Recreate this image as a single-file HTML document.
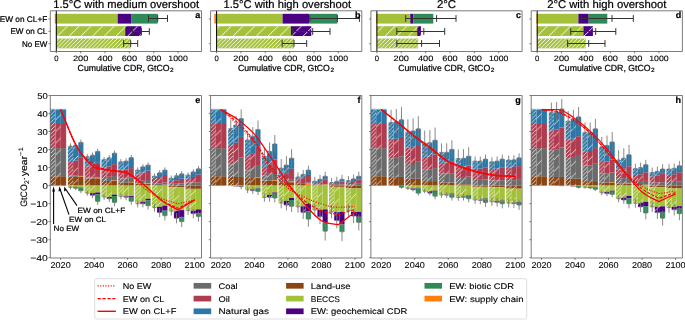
<!DOCTYPE html>
<html><head><meta charset="utf-8"><style>
html,body{margin:0;padding:0;background:#fff;}
body{width:685px;height:320px;overflow:hidden;}
svg{display:block;will-change:transform;}
</style></head><body>
<svg width="685" height="320" viewBox="0 0 685 320" font-family="&quot;Liberation Sans&quot;, sans-serif" fill="#000" text-rendering="geometricPrecision" stroke-linejoin="round">
<defs><pattern id="hd" patternUnits="userSpaceOnUse" width="3.85" height="3.85"><path d="M-1,4.85 L4.85,-1 M-4.85,4.85 L1,-1 M2.85,8.7 L8.7,2.85" stroke="#fff" stroke-opacity="0.85" stroke-width="0.85"/></pattern><pattern id="hs" patternUnits="userSpaceOnUse" width="11.7" height="11.7"><path d="M-1,12.7 L12.7,-1 M-12.7,12.7 L1,-1 M10.7,24.4 L24.4,10.7" stroke="#fff" stroke-opacity="0.85" stroke-width="0.85"/></pattern><pattern id="thd" patternUnits="userSpaceOnUse" width="3.9" height="3.9"><path d="M-1,4.9 L4.9,-1 M-4.9,4.9 L1,-1 M2.9,8.8 L8.8,2.9" stroke="#fff" stroke-opacity="0.95" stroke-width="0.95"/></pattern><pattern id="ths" patternUnits="userSpaceOnUse" width="11.7" height="11.7"><path d="M-1,12.7 L12.7,-1 M-12.7,12.7 L1,-1 M10.7,24.4 L24.4,10.7" stroke="#fff" stroke-opacity="0.95" stroke-width="0.95"/></pattern></defs>
<rect width="685" height="320" fill="#fff"/>
<text x="126.15" y="7.90" font-size="11.3" text-anchor="middle" textLength="145.80" lengthAdjust="spacingAndGlyphs" stroke="#000" stroke-width="0.22">1.5°C with medium overshoot</text>
<rect x="54.80" y="13.80" width="1.50" height="9.80" fill="#ff7f0e"/>
<rect x="56.30" y="13.80" width="61.40" height="9.80" fill="#a4c13a"/>
<rect x="117.70" y="13.80" width="13.40" height="9.80" fill="#4b0082"/>
<rect x="131.10" y="13.80" width="26.60" height="9.80" fill="#2e8b57"/>
<path d="M148.50,18.50H167.50M148.50,15.10V21.90M167.50,15.10V21.90M157.70,15.10V21.90" stroke="#333" stroke-width="1.0" fill="none"/>
<rect x="55.90" y="26.20" width="0.40" height="9.80" fill="#ff7f0e"/>
<rect x="56.30" y="26.20" width="68.90" height="9.80" fill="#a4c13a"/>
<rect x="125.20" y="26.20" width="16.20" height="9.80" fill="#4b0082"/>
<rect x="56.30" y="26.20" width="85.10" height="9.80" fill="url(#ths)"/>
<path d="M132.40,31.50H149.30M132.40,28.10V34.90M149.30,28.10V34.90M141.40,28.10V34.90" stroke="#333" stroke-width="1.0" fill="none"/>
<rect x="56.30" y="38.55" width="74.40" height="9.80" fill="#a4c13a"/>
<rect x="56.30" y="38.55" width="74.40" height="9.80" fill="url(#thd)"/>
<path d="M123.60,43.50H137.70M123.60,40.10V46.90M137.70,40.10V46.90M130.70,40.10V46.90" stroke="#333" stroke-width="1.0" fill="none"/>
<line x1="56.30" y1="10.80" x2="56.30" y2="51.50" stroke="#000" stroke-width="1"/>
<rect x="50.30" y="10.80" width="151.20" height="40.70" fill="none" stroke="#5a5a5a" stroke-width="0.8"/>
<line x1="56.30" y1="51.50" x2="56.30" y2="53.30" stroke="#5a5a5a" stroke-width="0.8"/>
<text x="56.30" y="60.60" font-size="7.7" text-anchor="middle" textLength="4.30" lengthAdjust="spacingAndGlyphs" stroke="#000" stroke-width="0.1">0</text>
<line x1="80.65" y1="51.50" x2="80.65" y2="53.30" stroke="#5a5a5a" stroke-width="0.8"/>
<text x="80.65" y="60.60" font-size="7.7" text-anchor="middle" textLength="15.40" lengthAdjust="spacingAndGlyphs" stroke="#000" stroke-width="0.1">200</text>
<line x1="105.00" y1="51.50" x2="105.00" y2="53.30" stroke="#5a5a5a" stroke-width="0.8"/>
<text x="105.00" y="60.60" font-size="7.7" text-anchor="middle" textLength="15.40" lengthAdjust="spacingAndGlyphs" stroke="#000" stroke-width="0.1">400</text>
<line x1="129.35" y1="51.50" x2="129.35" y2="53.30" stroke="#5a5a5a" stroke-width="0.8"/>
<text x="129.35" y="60.60" font-size="7.7" text-anchor="middle" textLength="15.40" lengthAdjust="spacingAndGlyphs" stroke="#000" stroke-width="0.1">600</text>
<line x1="153.70" y1="51.50" x2="153.70" y2="53.30" stroke="#5a5a5a" stroke-width="0.8"/>
<text x="153.70" y="60.60" font-size="7.7" text-anchor="middle" textLength="15.40" lengthAdjust="spacingAndGlyphs" stroke="#000" stroke-width="0.1">800</text>
<line x1="178.05" y1="51.50" x2="178.05" y2="53.30" stroke="#5a5a5a" stroke-width="0.8"/>
<text x="178.05" y="60.60" font-size="7.7" text-anchor="middle" textLength="19.50" lengthAdjust="spacingAndGlyphs" stroke="#000" stroke-width="0.1">1000</text>
<line x1="48.50" y1="18.95" x2="50.30" y2="18.95" stroke="#5a5a5a" stroke-width="0.8"/>
<line x1="48.50" y1="31.35" x2="50.30" y2="31.35" stroke="#5a5a5a" stroke-width="0.8"/>
<line x1="48.50" y1="43.70" x2="50.30" y2="43.70" stroke="#5a5a5a" stroke-width="0.8"/>
<text x="77.60" y="70.90" font-size="8.9" textLength="92.00" lengthAdjust="spacingAndGlyphs" stroke="#000" stroke-width="0.22">Cumulative CDR, GtCO</text>
<text x="170.10" y="72.40" font-size="6.2" textLength="3.60" lengthAdjust="spacingAndGlyphs" stroke="#000" stroke-width="0.22">2</text>
<text x="200.30" y="17.80" font-size="9.0" text-anchor="end" font-weight="bold" stroke="#000" stroke-width="0.22">a</text>
<text x="287.25" y="7.90" font-size="11.3" text-anchor="middle" textLength="127.50" lengthAdjust="spacingAndGlyphs" stroke="#000" stroke-width="0.22">1.5°C with high overshoot</text>
<rect x="214.30" y="13.80" width="2.30" height="9.80" fill="#ff7f0e"/>
<rect x="216.60" y="13.80" width="66.00" height="9.80" fill="#a4c13a"/>
<rect x="282.60" y="13.80" width="26.90" height="9.80" fill="#4b0082"/>
<rect x="309.50" y="13.80" width="27.90" height="9.80" fill="#2e8b57"/>
<path d="M309.70,18.50H359.40M309.70,15.10V21.90M359.40,15.10V21.90M337.40,15.10V21.90" stroke="#333" stroke-width="1.0" fill="none"/>
<rect x="216.00" y="26.20" width="0.60" height="9.80" fill="#ff7f0e"/>
<rect x="216.60" y="26.20" width="74.30" height="9.80" fill="#a4c13a"/>
<rect x="290.90" y="26.20" width="20.40" height="9.80" fill="#4b0082"/>
<rect x="216.60" y="26.20" width="94.70" height="9.80" fill="url(#ths)"/>
<path d="M292.60,31.50H330.00M292.60,28.10V34.90M330.00,28.10V34.90M312.70,28.10V34.90" stroke="#333" stroke-width="1.0" fill="none"/>
<rect x="216.60" y="38.55" width="77.40" height="9.80" fill="#a4c13a"/>
<rect x="216.60" y="38.55" width="77.40" height="9.80" fill="url(#thd)"/>
<path d="M282.20,43.50H306.70M282.20,40.10V46.90M306.70,40.10V46.90M294.00,40.10V46.90" stroke="#333" stroke-width="1.0" fill="none"/>
<line x1="216.60" y1="10.80" x2="216.60" y2="51.50" stroke="#000" stroke-width="1"/>
<rect x="210.60" y="10.80" width="151.20" height="40.70" fill="none" stroke="#5a5a5a" stroke-width="0.8"/>
<line x1="216.60" y1="51.50" x2="216.60" y2="53.30" stroke="#5a5a5a" stroke-width="0.8"/>
<text x="216.60" y="60.60" font-size="7.7" text-anchor="middle" textLength="4.30" lengthAdjust="spacingAndGlyphs" stroke="#000" stroke-width="0.1">0</text>
<line x1="240.95" y1="51.50" x2="240.95" y2="53.30" stroke="#5a5a5a" stroke-width="0.8"/>
<text x="240.95" y="60.60" font-size="7.7" text-anchor="middle" textLength="15.40" lengthAdjust="spacingAndGlyphs" stroke="#000" stroke-width="0.1">200</text>
<line x1="265.30" y1="51.50" x2="265.30" y2="53.30" stroke="#5a5a5a" stroke-width="0.8"/>
<text x="265.30" y="60.60" font-size="7.7" text-anchor="middle" textLength="15.40" lengthAdjust="spacingAndGlyphs" stroke="#000" stroke-width="0.1">400</text>
<line x1="289.65" y1="51.50" x2="289.65" y2="53.30" stroke="#5a5a5a" stroke-width="0.8"/>
<text x="289.65" y="60.60" font-size="7.7" text-anchor="middle" textLength="15.40" lengthAdjust="spacingAndGlyphs" stroke="#000" stroke-width="0.1">600</text>
<line x1="314.00" y1="51.50" x2="314.00" y2="53.30" stroke="#5a5a5a" stroke-width="0.8"/>
<text x="314.00" y="60.60" font-size="7.7" text-anchor="middle" textLength="15.40" lengthAdjust="spacingAndGlyphs" stroke="#000" stroke-width="0.1">800</text>
<line x1="338.35" y1="51.50" x2="338.35" y2="53.30" stroke="#5a5a5a" stroke-width="0.8"/>
<text x="338.35" y="60.60" font-size="7.7" text-anchor="middle" textLength="19.50" lengthAdjust="spacingAndGlyphs" stroke="#000" stroke-width="0.1">1000</text>
<line x1="208.80" y1="18.95" x2="210.60" y2="18.95" stroke="#5a5a5a" stroke-width="0.8"/>
<line x1="208.80" y1="43.70" x2="210.60" y2="43.70" stroke="#5a5a5a" stroke-width="0.8"/>
<text x="237.90" y="70.90" font-size="8.9" textLength="92.00" lengthAdjust="spacingAndGlyphs" stroke="#000" stroke-width="0.22">Cumulative CDR, GtCO</text>
<text x="330.40" y="72.40" font-size="6.2" textLength="3.60" lengthAdjust="spacingAndGlyphs" stroke="#000" stroke-width="0.22">2</text>
<text x="360.60" y="17.80" font-size="9.0" text-anchor="end" font-weight="bold" stroke="#000" stroke-width="0.22">b</text>
<text x="446.50" y="7.90" font-size="11.3" text-anchor="middle" textLength="19.20" lengthAdjust="spacingAndGlyphs" stroke="#000" stroke-width="0.22">2°C</text>
<rect x="376.10" y="13.80" width="0.80" height="9.80" fill="#ff7f0e"/>
<rect x="376.90" y="13.80" width="33.40" height="9.80" fill="#a4c13a"/>
<rect x="410.30" y="13.80" width="3.00" height="9.80" fill="#4b0082"/>
<rect x="413.30" y="13.80" width="20.00" height="9.80" fill="#2e8b57"/>
<path d="M405.70,18.50H456.00M405.70,15.10V21.90M456.00,15.10V21.90M436.60,15.10V21.90" stroke="#333" stroke-width="1.0" fill="none"/>
<rect x="376.50" y="26.20" width="0.40" height="9.80" fill="#ff7f0e"/>
<rect x="376.90" y="26.20" width="40.30" height="9.80" fill="#a4c13a"/>
<rect x="417.20" y="26.20" width="3.70" height="9.80" fill="#4b0082"/>
<rect x="376.90" y="26.20" width="44.00" height="9.80" fill="url(#ths)"/>
<path d="M396.80,31.50H444.70M396.80,28.10V34.90M444.70,28.10V34.90M423.80,28.10V34.90" stroke="#333" stroke-width="1.0" fill="none"/>
<rect x="376.90" y="38.55" width="41.20" height="9.80" fill="#a4c13a"/>
<rect x="376.90" y="38.55" width="41.20" height="9.80" fill="url(#thd)"/>
<path d="M396.80,43.50H439.50M396.80,40.10V46.90M439.50,40.10V46.90M421.60,40.10V46.90" stroke="#333" stroke-width="1.0" fill="none"/>
<line x1="376.90" y1="10.80" x2="376.90" y2="51.50" stroke="#000" stroke-width="1"/>
<rect x="370.90" y="10.80" width="151.20" height="40.70" fill="none" stroke="#5a5a5a" stroke-width="0.8"/>
<line x1="376.90" y1="51.50" x2="376.90" y2="53.30" stroke="#5a5a5a" stroke-width="0.8"/>
<text x="376.90" y="60.60" font-size="7.7" text-anchor="middle" textLength="4.30" lengthAdjust="spacingAndGlyphs" stroke="#000" stroke-width="0.1">0</text>
<line x1="401.25" y1="51.50" x2="401.25" y2="53.30" stroke="#5a5a5a" stroke-width="0.8"/>
<text x="401.25" y="60.60" font-size="7.7" text-anchor="middle" textLength="15.40" lengthAdjust="spacingAndGlyphs" stroke="#000" stroke-width="0.1">200</text>
<line x1="425.60" y1="51.50" x2="425.60" y2="53.30" stroke="#5a5a5a" stroke-width="0.8"/>
<text x="425.60" y="60.60" font-size="7.7" text-anchor="middle" textLength="15.40" lengthAdjust="spacingAndGlyphs" stroke="#000" stroke-width="0.1">400</text>
<line x1="449.95" y1="51.50" x2="449.95" y2="53.30" stroke="#5a5a5a" stroke-width="0.8"/>
<text x="449.95" y="60.60" font-size="7.7" text-anchor="middle" textLength="15.40" lengthAdjust="spacingAndGlyphs" stroke="#000" stroke-width="0.1">600</text>
<line x1="474.30" y1="51.50" x2="474.30" y2="53.30" stroke="#5a5a5a" stroke-width="0.8"/>
<text x="474.30" y="60.60" font-size="7.7" text-anchor="middle" textLength="15.40" lengthAdjust="spacingAndGlyphs" stroke="#000" stroke-width="0.1">800</text>
<line x1="498.65" y1="51.50" x2="498.65" y2="53.30" stroke="#5a5a5a" stroke-width="0.8"/>
<text x="498.65" y="60.60" font-size="7.7" text-anchor="middle" textLength="19.50" lengthAdjust="spacingAndGlyphs" stroke="#000" stroke-width="0.1">1000</text>
<line x1="369.10" y1="18.95" x2="370.90" y2="18.95" stroke="#5a5a5a" stroke-width="0.8"/>
<line x1="369.10" y1="43.70" x2="370.90" y2="43.70" stroke="#5a5a5a" stroke-width="0.8"/>
<text x="398.20" y="70.90" font-size="8.9" textLength="92.00" lengthAdjust="spacingAndGlyphs" stroke="#000" stroke-width="0.22">Cumulative CDR, GtCO</text>
<text x="490.70" y="72.40" font-size="6.2" textLength="3.60" lengthAdjust="spacingAndGlyphs" stroke="#000" stroke-width="0.22">2</text>
<text x="520.90" y="17.80" font-size="9.0" text-anchor="end" font-weight="bold" stroke="#000" stroke-width="0.22">c</text>
<text x="606.80" y="7.90" font-size="11.3" text-anchor="middle" textLength="119.30" lengthAdjust="spacingAndGlyphs" stroke="#000" stroke-width="0.22">2°C with high overshoot</text>
<rect x="536.40" y="13.80" width="0.80" height="9.80" fill="#ff7f0e"/>
<rect x="537.20" y="13.80" width="41.20" height="9.80" fill="#a4c13a"/>
<rect x="578.40" y="13.80" width="10.30" height="9.80" fill="#4b0082"/>
<rect x="588.70" y="13.80" width="18.60" height="9.80" fill="#2e8b57"/>
<path d="M581.20,18.50H633.30M581.20,15.10V21.90M633.30,15.10V21.90M612.00,15.10V21.90" stroke="#333" stroke-width="1.0" fill="none"/>
<rect x="536.80" y="26.20" width="0.40" height="9.80" fill="#ff7f0e"/>
<rect x="537.20" y="26.20" width="46.30" height="9.80" fill="#a4c13a"/>
<rect x="583.50" y="26.20" width="9.40" height="9.80" fill="#4b0082"/>
<rect x="537.20" y="26.20" width="55.70" height="9.80" fill="url(#ths)"/>
<path d="M570.70,31.50H615.80M570.70,28.10V34.90M615.80,28.10V34.90M595.70,28.10V34.90" stroke="#333" stroke-width="1.0" fill="none"/>
<rect x="537.20" y="38.55" width="48.60" height="9.80" fill="#a4c13a"/>
<rect x="537.20" y="38.55" width="48.60" height="9.80" fill="url(#thd)"/>
<path d="M567.60,43.50H605.00M567.60,40.10V46.90M605.00,40.10V46.90M588.70,40.10V46.90" stroke="#333" stroke-width="1.0" fill="none"/>
<line x1="537.20" y1="10.80" x2="537.20" y2="51.50" stroke="#000" stroke-width="1"/>
<rect x="531.20" y="10.80" width="151.20" height="40.70" fill="none" stroke="#5a5a5a" stroke-width="0.8"/>
<line x1="537.20" y1="51.50" x2="537.20" y2="53.30" stroke="#5a5a5a" stroke-width="0.8"/>
<text x="537.20" y="60.60" font-size="7.7" text-anchor="middle" textLength="4.30" lengthAdjust="spacingAndGlyphs" stroke="#000" stroke-width="0.1">0</text>
<line x1="561.55" y1="51.50" x2="561.55" y2="53.30" stroke="#5a5a5a" stroke-width="0.8"/>
<text x="561.55" y="60.60" font-size="7.7" text-anchor="middle" textLength="15.40" lengthAdjust="spacingAndGlyphs" stroke="#000" stroke-width="0.1">200</text>
<line x1="585.90" y1="51.50" x2="585.90" y2="53.30" stroke="#5a5a5a" stroke-width="0.8"/>
<text x="585.90" y="60.60" font-size="7.7" text-anchor="middle" textLength="15.40" lengthAdjust="spacingAndGlyphs" stroke="#000" stroke-width="0.1">400</text>
<line x1="610.25" y1="51.50" x2="610.25" y2="53.30" stroke="#5a5a5a" stroke-width="0.8"/>
<text x="610.25" y="60.60" font-size="7.7" text-anchor="middle" textLength="15.40" lengthAdjust="spacingAndGlyphs" stroke="#000" stroke-width="0.1">600</text>
<line x1="634.60" y1="51.50" x2="634.60" y2="53.30" stroke="#5a5a5a" stroke-width="0.8"/>
<text x="634.60" y="60.60" font-size="7.7" text-anchor="middle" textLength="15.40" lengthAdjust="spacingAndGlyphs" stroke="#000" stroke-width="0.1">800</text>
<line x1="658.95" y1="51.50" x2="658.95" y2="53.30" stroke="#5a5a5a" stroke-width="0.8"/>
<text x="658.95" y="60.60" font-size="7.7" text-anchor="middle" textLength="19.50" lengthAdjust="spacingAndGlyphs" stroke="#000" stroke-width="0.1">1000</text>
<line x1="529.40" y1="18.95" x2="531.20" y2="18.95" stroke="#5a5a5a" stroke-width="0.8"/>
<line x1="529.40" y1="43.70" x2="531.20" y2="43.70" stroke="#5a5a5a" stroke-width="0.8"/>
<text x="558.50" y="70.90" font-size="8.9" textLength="92.00" lengthAdjust="spacingAndGlyphs" stroke="#000" stroke-width="0.22">Cumulative CDR, GtCO</text>
<text x="651.00" y="72.40" font-size="6.2" textLength="3.60" lengthAdjust="spacingAndGlyphs" stroke="#000" stroke-width="0.22">2</text>
<text x="681.20" y="17.80" font-size="9.0" text-anchor="end" font-weight="bold" stroke="#000" stroke-width="0.22">d</text>
<text x="47.30" y="21.80" font-size="8.2" text-anchor="end" textLength="47.60" lengthAdjust="spacingAndGlyphs" stroke="#000" stroke-width="0.22">EW on CL+F</text>
<text x="47.30" y="34.20" font-size="8.2" text-anchor="end" textLength="36.90" lengthAdjust="spacingAndGlyphs" stroke="#000" stroke-width="0.22">EW on CL</text>
<text x="47.30" y="46.55" font-size="8.2" text-anchor="end" textLength="25.30" lengthAdjust="spacingAndGlyphs" stroke="#000" stroke-width="0.22">No EW</text>
<rect x="50.30" y="176.22" width="5.30" height="9.38" fill="#8b4513"/>
<rect x="50.30" y="148.10" width="5.30" height="28.13" fill="#6b6b6b"/>
<rect x="50.30" y="123.04" width="5.30" height="25.06" fill="#b03c4f"/>
<rect x="50.30" y="109.51" width="5.30" height="13.52" fill="#2a77a8"/>
<rect x="50.30" y="109.51" width="5.30" height="76.09" fill="url(#hd)"/>
<line x1="55.60" y1="109.51" x2="55.60" y2="185.60" stroke="#fff" stroke-opacity="0.35" stroke-width="0.5"/>
<path d="M50.75,109.31H55.15" stroke="#9a9a9a" stroke-width="0.8" fill="none"/>
<rect x="55.60" y="176.22" width="5.30" height="9.38" fill="#8b4513"/>
<rect x="55.60" y="148.10" width="5.30" height="28.13" fill="#6b6b6b"/>
<rect x="55.60" y="123.04" width="5.30" height="25.06" fill="#b03c4f"/>
<rect x="55.60" y="109.51" width="5.30" height="13.52" fill="#2a77a8"/>
<rect x="55.60" y="109.51" width="5.30" height="76.09" fill="url(#hs)"/>
<line x1="60.90" y1="109.51" x2="60.90" y2="185.60" stroke="#fff" stroke-opacity="0.35" stroke-width="0.5"/>
<path d="M56.05,109.31H60.45" stroke="#9a9a9a" stroke-width="0.8" fill="none"/>
<rect x="60.90" y="176.22" width="5.30" height="9.38" fill="#8b4513"/>
<rect x="60.90" y="148.10" width="5.30" height="28.13" fill="#6b6b6b"/>
<rect x="60.90" y="123.04" width="5.30" height="25.06" fill="#b03c4f"/>
<rect x="60.90" y="109.51" width="5.30" height="13.52" fill="#2a77a8"/>
<line x1="66.20" y1="109.51" x2="66.20" y2="185.60" stroke="#fff" stroke-opacity="0.35" stroke-width="0.5"/>
<path d="M61.35,109.31H65.75" stroke="#9a9a9a" stroke-width="0.8" fill="none"/>
<rect x="67.90" y="176.77" width="5.20" height="8.83" fill="#8b4513"/>
<rect x="67.90" y="175.32" width="5.20" height="1.44" fill="#6b6b6b"/>
<rect x="67.90" y="161.08" width="5.20" height="14.24" fill="#b03c4f"/>
<rect x="67.90" y="146.11" width="5.20" height="14.96" fill="#2a77a8"/>
<rect x="67.90" y="185.60" width="5.20" height="1.80" fill="#a4c13a"/>
<rect x="67.90" y="146.11" width="5.20" height="41.29" fill="url(#hd)"/>
<line x1="73.10" y1="146.11" x2="73.10" y2="187.40" stroke="#fff" stroke-opacity="0.35" stroke-width="0.5"/>
<path d="M70.50,143.41V148.82M68.80,146.11H72.20" stroke="#7a7a7a" stroke-width="0.9" fill="none"/>
<path d="M70.50,185.96V189.39M68.80,187.40H72.20" stroke="#7a7a7a" stroke-width="0.9" fill="none"/>
<rect x="73.10" y="176.77" width="5.20" height="8.83" fill="#8b4513"/>
<rect x="73.10" y="175.32" width="5.20" height="1.44" fill="#6b6b6b"/>
<rect x="73.10" y="160.72" width="5.20" height="14.60" fill="#b03c4f"/>
<rect x="73.10" y="145.39" width="5.20" height="15.33" fill="#2a77a8"/>
<rect x="73.10" y="185.60" width="5.20" height="1.80" fill="#a4c13a"/>
<rect x="73.10" y="187.40" width="5.20" height="0.81" fill="#4b0082"/>
<rect x="73.10" y="145.39" width="5.20" height="42.82" fill="url(#hs)"/>
<line x1="78.30" y1="145.39" x2="78.30" y2="188.21" stroke="#fff" stroke-opacity="0.35" stroke-width="0.5"/>
<path d="M75.70,142.69V148.10M74.00,145.39H77.40" stroke="#7a7a7a" stroke-width="0.9" fill="none"/>
<path d="M75.70,186.15V190.28M74.00,188.21H77.40" stroke="#7a7a7a" stroke-width="0.9" fill="none"/>
<rect x="78.30" y="176.95" width="5.20" height="8.65" fill="#8b4513"/>
<rect x="78.30" y="176.22" width="5.20" height="0.72" fill="#ff7f0e"/>
<rect x="78.30" y="174.96" width="5.20" height="1.26" fill="#6b6b6b"/>
<rect x="78.30" y="157.29" width="5.20" height="17.67" fill="#b03c4f"/>
<rect x="78.30" y="142.33" width="5.20" height="14.96" fill="#2a77a8"/>
<rect x="78.30" y="185.60" width="5.20" height="1.62" fill="#a4c13a"/>
<rect x="78.30" y="187.22" width="5.20" height="0.18" fill="#4b0082"/>
<rect x="78.30" y="187.40" width="5.20" height="3.43" fill="#2e8b57"/>
<line x1="83.50" y1="142.33" x2="83.50" y2="190.83" stroke="#fff" stroke-opacity="0.35" stroke-width="0.5"/>
<path d="M80.90,139.62V145.03M79.20,142.33H82.60" stroke="#7a7a7a" stroke-width="0.9" fill="none"/>
<path d="M80.90,188.50V193.15M79.20,190.83H82.60" stroke="#7a7a7a" stroke-width="0.9" fill="none"/>
<rect x="84.70" y="178.39" width="5.20" height="7.21" fill="#8b4513"/>
<rect x="84.70" y="177.31" width="5.20" height="1.08" fill="#6b6b6b"/>
<rect x="84.70" y="166.31" width="5.20" height="11.00" fill="#b03c4f"/>
<rect x="84.70" y="156.75" width="5.20" height="9.56" fill="#2a77a8"/>
<rect x="84.70" y="185.60" width="5.20" height="7.57" fill="#a4c13a"/>
<rect x="84.70" y="156.75" width="5.20" height="36.42" fill="url(#hd)"/>
<line x1="89.90" y1="156.75" x2="89.90" y2="193.17" stroke="#fff" stroke-opacity="0.35" stroke-width="0.5"/>
<path d="M87.30,154.05V159.46M85.60,156.75H89.00" stroke="#7a7a7a" stroke-width="0.9" fill="none"/>
<path d="M87.30,190.61V195.73M85.60,193.17H89.00" stroke="#7a7a7a" stroke-width="0.9" fill="none"/>
<rect x="89.90" y="178.39" width="5.20" height="7.21" fill="#8b4513"/>
<rect x="89.90" y="177.31" width="5.20" height="1.08" fill="#6b6b6b"/>
<rect x="89.90" y="164.87" width="5.20" height="12.44" fill="#b03c4f"/>
<rect x="89.90" y="155.13" width="5.20" height="9.74" fill="#2a77a8"/>
<rect x="89.90" y="185.60" width="5.20" height="7.57" fill="#a4c13a"/>
<rect x="89.90" y="193.17" width="5.20" height="2.16" fill="#4b0082"/>
<rect x="89.90" y="155.13" width="5.20" height="40.21" fill="url(#hs)"/>
<line x1="95.10" y1="155.13" x2="95.10" y2="195.34" stroke="#fff" stroke-opacity="0.35" stroke-width="0.5"/>
<path d="M92.50,152.42V157.83M90.80,155.13H94.20" stroke="#7a7a7a" stroke-width="0.9" fill="none"/>
<path d="M92.50,192.56V198.11M90.80,195.34H94.20" stroke="#7a7a7a" stroke-width="0.9" fill="none"/>
<rect x="95.10" y="178.39" width="5.20" height="7.21" fill="#8b4513"/>
<rect x="95.10" y="177.67" width="5.20" height="0.72" fill="#ff7f0e"/>
<rect x="95.10" y="176.95" width="5.20" height="0.72" fill="#6b6b6b"/>
<rect x="95.10" y="162.88" width="5.20" height="14.06" fill="#b03c4f"/>
<rect x="95.10" y="151.34" width="5.20" height="11.54" fill="#2a77a8"/>
<rect x="95.10" y="185.60" width="5.20" height="6.85" fill="#a4c13a"/>
<rect x="95.10" y="192.45" width="5.20" height="1.80" fill="#4b0082"/>
<rect x="95.10" y="194.25" width="5.20" height="7.21" fill="#2e8b57"/>
<line x1="100.30" y1="151.34" x2="100.30" y2="201.47" stroke="#fff" stroke-opacity="0.35" stroke-width="0.5"/>
<path d="M97.70,148.64V154.05M96.00,151.34H99.40" stroke="#7a7a7a" stroke-width="0.9" fill="none"/>
<path d="M97.70,198.08V204.86M96.00,201.47H99.40" stroke="#7a7a7a" stroke-width="0.9" fill="none"/>
<rect x="101.50" y="180.91" width="5.20" height="4.69" fill="#8b4513"/>
<rect x="101.50" y="176.95" width="5.20" height="3.97" fill="#6b6b6b"/>
<rect x="101.50" y="167.75" width="5.20" height="9.20" fill="#b03c4f"/>
<rect x="101.50" y="159.64" width="5.20" height="8.11" fill="#2a77a8"/>
<rect x="101.50" y="185.60" width="5.20" height="11.36" fill="#a4c13a"/>
<rect x="101.50" y="159.64" width="5.20" height="37.32" fill="url(#hd)"/>
<line x1="106.70" y1="159.64" x2="106.70" y2="196.96" stroke="#fff" stroke-opacity="0.35" stroke-width="0.5"/>
<path d="M104.10,156.93V162.34M102.40,159.64H105.80" stroke="#7a7a7a" stroke-width="0.9" fill="none"/>
<path d="M104.10,194.02V199.90M102.40,196.96H105.80" stroke="#7a7a7a" stroke-width="0.9" fill="none"/>
<rect x="106.70" y="180.91" width="5.20" height="4.69" fill="#8b4513"/>
<rect x="106.70" y="176.77" width="5.20" height="4.15" fill="#6b6b6b"/>
<rect x="106.70" y="166.31" width="5.20" height="10.46" fill="#b03c4f"/>
<rect x="106.70" y="157.83" width="5.20" height="8.47" fill="#2a77a8"/>
<rect x="106.70" y="185.60" width="5.20" height="11.36" fill="#a4c13a"/>
<rect x="106.70" y="196.96" width="5.20" height="1.80" fill="#4b0082"/>
<rect x="106.70" y="157.83" width="5.20" height="40.93" fill="url(#hs)"/>
<line x1="111.90" y1="157.83" x2="111.90" y2="198.76" stroke="#fff" stroke-opacity="0.35" stroke-width="0.5"/>
<path d="M109.30,155.13V160.54M107.60,157.83H111.00" stroke="#7a7a7a" stroke-width="0.9" fill="none"/>
<path d="M109.30,195.64V201.88M107.60,198.76H111.00" stroke="#7a7a7a" stroke-width="0.9" fill="none"/>
<rect x="111.90" y="180.55" width="5.20" height="5.05" fill="#8b4513"/>
<rect x="111.90" y="180.19" width="5.20" height="0.36" fill="#ff7f0e"/>
<rect x="111.90" y="176.04" width="5.20" height="4.15" fill="#6b6b6b"/>
<rect x="111.90" y="164.14" width="5.20" height="11.90" fill="#b03c4f"/>
<rect x="111.90" y="153.15" width="5.20" height="11.00" fill="#2a77a8"/>
<rect x="111.90" y="185.60" width="5.20" height="9.02" fill="#a4c13a"/>
<rect x="111.90" y="194.62" width="5.20" height="1.44" fill="#4b0082"/>
<rect x="111.90" y="196.06" width="5.20" height="6.49" fill="#2e8b57"/>
<line x1="117.10" y1="153.15" x2="117.10" y2="202.55" stroke="#fff" stroke-opacity="0.35" stroke-width="0.5"/>
<path d="M114.50,150.44V155.85M112.80,153.15H116.20" stroke="#7a7a7a" stroke-width="0.9" fill="none"/>
<path d="M114.50,199.05V206.05M112.80,202.55H116.20" stroke="#7a7a7a" stroke-width="0.9" fill="none"/>
<rect x="118.30" y="182.72" width="5.20" height="2.88" fill="#8b4513"/>
<rect x="118.30" y="178.39" width="5.20" height="4.33" fill="#6b6b6b"/>
<rect x="118.30" y="169.37" width="5.20" height="9.02" fill="#b03c4f"/>
<rect x="118.30" y="161.80" width="5.20" height="7.57" fill="#2a77a8"/>
<rect x="118.30" y="185.60" width="5.20" height="10.82" fill="#a4c13a"/>
<rect x="118.30" y="161.80" width="5.20" height="34.62" fill="url(#hd)"/>
<line x1="123.50" y1="161.80" x2="123.50" y2="196.42" stroke="#fff" stroke-opacity="0.35" stroke-width="0.5"/>
<path d="M120.90,159.10V164.50M119.20,161.80H122.60" stroke="#7a7a7a" stroke-width="0.9" fill="none"/>
<path d="M120.90,193.53V199.30M119.20,196.42H122.60" stroke="#7a7a7a" stroke-width="0.9" fill="none"/>
<rect x="123.50" y="182.72" width="5.20" height="2.88" fill="#8b4513"/>
<rect x="123.50" y="178.39" width="5.20" height="4.33" fill="#6b6b6b"/>
<rect x="123.50" y="169.37" width="5.20" height="9.02" fill="#b03c4f"/>
<rect x="123.50" y="161.08" width="5.20" height="8.29" fill="#2a77a8"/>
<rect x="123.50" y="185.60" width="5.20" height="10.82" fill="#a4c13a"/>
<rect x="123.50" y="196.42" width="5.20" height="0.90" fill="#4b0082"/>
<rect x="123.50" y="161.08" width="5.20" height="36.24" fill="url(#hs)"/>
<line x1="128.70" y1="161.08" x2="128.70" y2="197.32" stroke="#fff" stroke-opacity="0.35" stroke-width="0.5"/>
<path d="M126.10,158.37V163.78M124.40,161.08H127.80" stroke="#7a7a7a" stroke-width="0.9" fill="none"/>
<path d="M126.10,194.34V200.29M124.40,197.32H127.80" stroke="#7a7a7a" stroke-width="0.9" fill="none"/>
<rect x="128.70" y="182.35" width="5.20" height="3.25" fill="#8b4513"/>
<rect x="128.70" y="181.99" width="5.20" height="0.36" fill="#ff7f0e"/>
<rect x="128.70" y="177.67" width="5.20" height="4.33" fill="#6b6b6b"/>
<rect x="128.70" y="168.11" width="5.20" height="9.56" fill="#b03c4f"/>
<rect x="128.70" y="157.65" width="5.20" height="10.46" fill="#2a77a8"/>
<rect x="128.70" y="185.60" width="5.20" height="10.46" fill="#a4c13a"/>
<rect x="128.70" y="196.06" width="5.20" height="0.90" fill="#4b0082"/>
<rect x="128.70" y="196.96" width="5.20" height="4.33" fill="#2e8b57"/>
<line x1="133.90" y1="157.65" x2="133.90" y2="201.29" stroke="#fff" stroke-opacity="0.35" stroke-width="0.5"/>
<path d="M131.30,154.95V160.36M129.60,157.65H133.00" stroke="#7a7a7a" stroke-width="0.9" fill="none"/>
<path d="M131.30,197.91V204.66M129.60,201.29H133.00" stroke="#7a7a7a" stroke-width="0.9" fill="none"/>
<rect x="135.10" y="183.62" width="5.20" height="1.98" fill="#8b4513"/>
<rect x="135.10" y="180.73" width="5.20" height="2.88" fill="#6b6b6b"/>
<rect x="135.10" y="174.42" width="5.20" height="6.31" fill="#b03c4f"/>
<rect x="135.10" y="170.09" width="5.20" height="4.33" fill="#2a77a8"/>
<rect x="135.10" y="185.60" width="5.20" height="18.21" fill="#a4c13a"/>
<rect x="135.10" y="170.09" width="5.20" height="33.72" fill="url(#hd)"/>
<line x1="140.30" y1="170.09" x2="140.30" y2="203.81" stroke="#fff" stroke-opacity="0.35" stroke-width="0.5"/>
<path d="M137.70,167.39V172.80M136.00,170.09H139.40" stroke="#7a7a7a" stroke-width="0.9" fill="none"/>
<path d="M137.70,200.19V207.43M136.00,203.81H139.40" stroke="#7a7a7a" stroke-width="0.9" fill="none"/>
<rect x="140.30" y="183.62" width="5.20" height="1.98" fill="#8b4513"/>
<rect x="140.30" y="180.73" width="5.20" height="2.88" fill="#6b6b6b"/>
<rect x="140.30" y="172.44" width="5.20" height="8.29" fill="#b03c4f"/>
<rect x="140.30" y="166.85" width="5.20" height="5.59" fill="#2a77a8"/>
<rect x="140.30" y="185.60" width="5.20" height="16.23" fill="#a4c13a"/>
<rect x="140.30" y="201.83" width="5.20" height="1.98" fill="#4b0082"/>
<rect x="140.30" y="166.85" width="5.20" height="36.96" fill="url(#hs)"/>
<line x1="145.50" y1="166.85" x2="145.50" y2="203.81" stroke="#fff" stroke-opacity="0.35" stroke-width="0.5"/>
<path d="M142.90,164.14V169.55M141.20,166.85H144.60" stroke="#7a7a7a" stroke-width="0.9" fill="none"/>
<path d="M142.90,200.19V207.43M141.20,203.81H144.60" stroke="#7a7a7a" stroke-width="0.9" fill="none"/>
<rect x="145.50" y="183.80" width="5.20" height="1.80" fill="#8b4513"/>
<rect x="145.50" y="183.26" width="5.20" height="0.54" fill="#ff7f0e"/>
<rect x="145.50" y="180.01" width="5.20" height="3.25" fill="#6b6b6b"/>
<rect x="145.50" y="170.64" width="5.20" height="9.38" fill="#b03c4f"/>
<rect x="145.50" y="165.05" width="5.20" height="5.59" fill="#2a77a8"/>
<rect x="145.50" y="185.60" width="5.20" height="13.16" fill="#a4c13a"/>
<rect x="145.50" y="198.76" width="5.20" height="1.80" fill="#4b0082"/>
<rect x="145.50" y="200.56" width="5.20" height="5.23" fill="#2e8b57"/>
<line x1="150.70" y1="165.05" x2="150.70" y2="205.79" stroke="#fff" stroke-opacity="0.35" stroke-width="0.5"/>
<path d="M148.10,162.34V167.75M146.40,165.05H149.80" stroke="#7a7a7a" stroke-width="0.9" fill="none"/>
<path d="M148.10,201.97V209.62M146.40,205.79H149.80" stroke="#7a7a7a" stroke-width="0.9" fill="none"/>
<rect x="151.90" y="185.06" width="5.20" height="0.54" fill="#8b4513"/>
<rect x="151.90" y="183.26" width="5.20" height="1.80" fill="#6b6b6b"/>
<rect x="151.90" y="180.01" width="5.20" height="3.25" fill="#b03c4f"/>
<rect x="151.90" y="176.22" width="5.20" height="3.79" fill="#2a77a8"/>
<rect x="151.90" y="185.60" width="5.20" height="22.00" fill="#a4c13a"/>
<rect x="151.90" y="176.22" width="5.20" height="31.37" fill="url(#hd)"/>
<line x1="157.10" y1="176.22" x2="157.10" y2="207.60" stroke="#fff" stroke-opacity="0.35" stroke-width="0.5"/>
<path d="M154.50,173.52V178.93M152.80,176.22H156.20" stroke="#7a7a7a" stroke-width="0.9" fill="none"/>
<path d="M154.50,203.59V211.60M152.80,207.60H156.20" stroke="#7a7a7a" stroke-width="0.9" fill="none"/>
<rect x="157.10" y="185.06" width="5.20" height="0.54" fill="#8b4513"/>
<rect x="157.10" y="183.26" width="5.20" height="1.80" fill="#6b6b6b"/>
<rect x="157.10" y="176.95" width="5.20" height="6.31" fill="#b03c4f"/>
<rect x="157.10" y="172.80" width="5.20" height="4.15" fill="#2a77a8"/>
<rect x="157.10" y="185.60" width="5.20" height="21.28" fill="#a4c13a"/>
<rect x="157.10" y="206.88" width="5.20" height="5.77" fill="#4b0082"/>
<rect x="157.10" y="172.80" width="5.20" height="39.85" fill="url(#hs)"/>
<line x1="162.30" y1="172.80" x2="162.30" y2="212.64" stroke="#fff" stroke-opacity="0.35" stroke-width="0.5"/>
<path d="M159.70,170.09V175.50M158.00,172.80H161.40" stroke="#7a7a7a" stroke-width="0.9" fill="none"/>
<path d="M159.70,208.14V217.15M158.00,212.64H161.40" stroke="#7a7a7a" stroke-width="0.9" fill="none"/>
<rect x="162.30" y="185.06" width="5.20" height="0.54" fill="#8b4513"/>
<rect x="162.30" y="184.70" width="5.20" height="0.36" fill="#ff7f0e"/>
<rect x="162.30" y="182.53" width="5.20" height="2.16" fill="#6b6b6b"/>
<rect x="162.30" y="174.96" width="5.20" height="7.57" fill="#b03c4f"/>
<rect x="162.30" y="170.09" width="5.20" height="4.87" fill="#2a77a8"/>
<rect x="162.30" y="185.60" width="5.20" height="20.01" fill="#a4c13a"/>
<rect x="162.30" y="205.61" width="5.20" height="5.05" fill="#4b0082"/>
<rect x="162.30" y="210.66" width="5.20" height="5.05" fill="#2e8b57"/>
<line x1="167.50" y1="170.09" x2="167.50" y2="215.71" stroke="#fff" stroke-opacity="0.35" stroke-width="0.5"/>
<path d="M164.90,167.39V172.80M163.20,170.09H166.60" stroke="#7a7a7a" stroke-width="0.9" fill="none"/>
<path d="M164.90,210.90V220.52M163.20,215.71H166.60" stroke="#7a7a7a" stroke-width="0.9" fill="none"/>
<rect x="168.70" y="185.60" width="5.20" height="1.80" fill="#8b4513"/>
<rect x="168.70" y="183.80" width="5.20" height="1.80" fill="#6b6b6b"/>
<rect x="168.70" y="181.99" width="5.20" height="1.80" fill="#b03c4f"/>
<rect x="168.70" y="178.21" width="5.20" height="3.79" fill="#2a77a8"/>
<rect x="168.70" y="187.40" width="5.20" height="23.80" fill="#a4c13a"/>
<rect x="168.70" y="178.21" width="5.20" height="32.99" fill="url(#hd)"/>
<line x1="173.90" y1="178.21" x2="173.90" y2="211.20" stroke="#fff" stroke-opacity="0.35" stroke-width="0.5"/>
<path d="M171.30,175.50V180.91M169.60,178.21H173.00" stroke="#7a7a7a" stroke-width="0.9" fill="none"/>
<path d="M171.30,206.84V215.57M169.60,211.20H173.00" stroke="#7a7a7a" stroke-width="0.9" fill="none"/>
<rect x="173.90" y="185.60" width="5.20" height="1.80" fill="#8b4513"/>
<rect x="173.90" y="183.80" width="5.20" height="1.80" fill="#6b6b6b"/>
<rect x="173.90" y="180.19" width="5.20" height="3.61" fill="#b03c4f"/>
<rect x="173.90" y="175.68" width="5.20" height="4.51" fill="#2a77a8"/>
<rect x="173.90" y="187.40" width="5.20" height="23.26" fill="#a4c13a"/>
<rect x="173.90" y="210.66" width="5.20" height="7.57" fill="#4b0082"/>
<rect x="173.90" y="175.68" width="5.20" height="42.55" fill="url(#hs)"/>
<line x1="179.10" y1="175.68" x2="179.10" y2="218.23" stroke="#fff" stroke-opacity="0.35" stroke-width="0.5"/>
<path d="M176.50,172.98V178.39M174.80,175.68H178.20" stroke="#7a7a7a" stroke-width="0.9" fill="none"/>
<path d="M176.50,213.17V223.30M174.80,218.23H178.20" stroke="#7a7a7a" stroke-width="0.9" fill="none"/>
<rect x="179.10" y="185.60" width="5.20" height="1.80" fill="#8b4513"/>
<rect x="179.10" y="183.44" width="5.20" height="2.16" fill="#6b6b6b"/>
<rect x="179.10" y="178.75" width="5.20" height="4.69" fill="#b03c4f"/>
<rect x="179.10" y="173.88" width="5.20" height="4.87" fill="#2a77a8"/>
<rect x="179.10" y="187.40" width="5.20" height="22.72" fill="#a4c13a"/>
<rect x="179.10" y="210.12" width="5.20" height="7.21" fill="#4b0082"/>
<rect x="179.10" y="217.33" width="5.20" height="4.33" fill="#2e8b57"/>
<line x1="184.30" y1="173.88" x2="184.30" y2="221.66" stroke="#fff" stroke-opacity="0.35" stroke-width="0.5"/>
<path d="M181.70,171.18V176.58M180.00,173.88H183.40" stroke="#7a7a7a" stroke-width="0.9" fill="none"/>
<path d="M181.70,216.25V227.07M180.00,221.66H183.40" stroke="#7a7a7a" stroke-width="0.9" fill="none"/>
<rect x="185.50" y="185.60" width="5.20" height="3.25" fill="#8b4513"/>
<rect x="185.50" y="182.53" width="5.20" height="3.07" fill="#6b6b6b"/>
<rect x="185.50" y="178.75" width="5.20" height="3.79" fill="#b03c4f"/>
<rect x="185.50" y="174.96" width="5.20" height="3.79" fill="#2a77a8"/>
<rect x="185.50" y="188.85" width="5.20" height="21.82" fill="#a4c13a"/>
<rect x="185.50" y="174.96" width="5.20" height="35.70" fill="url(#hd)"/>
<line x1="190.70" y1="174.96" x2="190.70" y2="210.66" stroke="#fff" stroke-opacity="0.35" stroke-width="0.5"/>
<path d="M188.10,172.26V177.67M186.40,174.96H189.80" stroke="#7a7a7a" stroke-width="0.9" fill="none"/>
<path d="M188.10,206.35V214.97M186.40,210.66H189.80" stroke="#7a7a7a" stroke-width="0.9" fill="none"/>
<rect x="190.70" y="185.60" width="5.20" height="3.25" fill="#8b4513"/>
<rect x="190.70" y="182.53" width="5.20" height="3.07" fill="#6b6b6b"/>
<rect x="190.70" y="176.95" width="5.20" height="5.59" fill="#b03c4f"/>
<rect x="190.70" y="171.90" width="5.20" height="5.05" fill="#2a77a8"/>
<rect x="190.70" y="188.85" width="5.20" height="21.82" fill="#a4c13a"/>
<rect x="190.70" y="210.66" width="5.20" height="3.07" fill="#4b0082"/>
<rect x="190.70" y="171.90" width="5.20" height="41.83" fill="url(#hs)"/>
<line x1="195.90" y1="171.90" x2="195.90" y2="213.73" stroke="#fff" stroke-opacity="0.35" stroke-width="0.5"/>
<path d="M193.30,169.19V174.60M191.60,171.90H195.00" stroke="#7a7a7a" stroke-width="0.9" fill="none"/>
<path d="M193.30,209.11V218.34M191.60,213.73H195.00" stroke="#7a7a7a" stroke-width="0.9" fill="none"/>
<rect x="195.90" y="185.60" width="5.20" height="3.25" fill="#8b4513"/>
<rect x="195.90" y="182.53" width="5.20" height="3.07" fill="#6b6b6b"/>
<rect x="195.90" y="174.42" width="5.20" height="8.11" fill="#b03c4f"/>
<rect x="195.90" y="168.83" width="5.20" height="5.59" fill="#2a77a8"/>
<rect x="195.90" y="188.85" width="5.20" height="20.55" fill="#a4c13a"/>
<rect x="195.90" y="209.40" width="5.20" height="3.79" fill="#4b0082"/>
<rect x="195.90" y="213.19" width="5.20" height="3.43" fill="#2e8b57"/>
<line x1="201.10" y1="168.83" x2="201.10" y2="216.61" stroke="#fff" stroke-opacity="0.35" stroke-width="0.5"/>
<path d="M198.50,166.13V171.54M196.80,168.83H200.20" stroke="#7a7a7a" stroke-width="0.9" fill="none"/>
<path d="M198.50,211.71V221.52M196.80,216.61H200.20" stroke="#7a7a7a" stroke-width="0.9" fill="none"/>
<path d="M60.60,109.51C66.19,122.31 71.77,138.78 77.36,147.92C82.95,157.05 88.53,160.48 94.12,164.32C99.71,168.17 105.29,169.61 110.88,171.00C116.47,171.70 122.05,171.16 127.64,172.62C133.23,175.50 138.81,184.04 144.40,188.30C149.99,192.57 155.57,195.64 161.16,198.22C166.75,200.81 172.33,201.95 177.92,203.81C183.51,202.55 189.09,201.29 194.68,200.02" fill="none" stroke="#ff0000" stroke-dasharray="1.1 1.5" stroke-width="1.15" stroke-linejoin="round"/>
<path d="M60.60,109.51C66.19,122.34 71.77,138.78 77.36,148.01C82.95,157.23 88.53,161.03 94.12,164.87C99.71,168.70 105.29,169.67 110.88,171.00C116.47,171.88 122.05,171.23 127.64,172.80C133.23,175.14 138.81,180.55 144.40,185.06C149.99,189.57 155.57,195.97 161.16,199.84C166.75,203.72 172.33,205.49 177.92,208.32C183.51,205.55 189.09,202.79 194.68,200.02" fill="none" stroke="#ff0000" stroke-dasharray="3 1.6" stroke-width="1.15" stroke-linejoin="round"/>
<path d="M60.60,109.51C66.19,122.19 71.77,137.94 77.36,147.56C82.95,157.17 88.53,163.45 94.12,167.21C99.71,169.99 105.29,169.34 110.88,170.09C116.47,171.12 122.05,170.82 127.64,173.34C133.23,175.86 138.81,180.76 144.40,185.24C149.99,189.72 155.57,196.09 161.16,200.20C166.75,204.32 172.33,206.70 177.92,209.94C183.51,206.57 189.09,203.21 194.68,199.84" fill="none" stroke="#ff0000" stroke-width="1.25" stroke-linejoin="round"/>
<rect x="50.30" y="95.50" width="151.20" height="162.50" fill="none" stroke="#5a5a5a" stroke-width="0.8"/>
<line x1="48.50" y1="257.72" x2="50.30" y2="257.72" stroke="#5a5a5a" stroke-width="0.8"/>
<text x="47.80" y="260.82" font-size="8.5" text-anchor="end" textLength="17.60" lengthAdjust="spacingAndGlyphs" stroke="#000" stroke-width="0.08">−40</text>
<line x1="48.50" y1="239.69" x2="50.30" y2="239.69" stroke="#5a5a5a" stroke-width="0.8"/>
<text x="47.80" y="242.79" font-size="8.5" text-anchor="end" textLength="17.60" lengthAdjust="spacingAndGlyphs" stroke="#000" stroke-width="0.08">−30</text>
<line x1="48.50" y1="221.66" x2="50.30" y2="221.66" stroke="#5a5a5a" stroke-width="0.8"/>
<text x="47.80" y="224.76" font-size="8.5" text-anchor="end" textLength="17.60" lengthAdjust="spacingAndGlyphs" stroke="#000" stroke-width="0.08">−20</text>
<line x1="48.50" y1="203.63" x2="50.30" y2="203.63" stroke="#5a5a5a" stroke-width="0.8"/>
<text x="47.80" y="206.73" font-size="8.5" text-anchor="end" textLength="17.60" lengthAdjust="spacingAndGlyphs" stroke="#000" stroke-width="0.08">−10</text>
<line x1="48.50" y1="185.60" x2="50.30" y2="185.60" stroke="#5a5a5a" stroke-width="0.8"/>
<text x="47.80" y="188.70" font-size="8.5" text-anchor="end" textLength="5.40" lengthAdjust="spacingAndGlyphs" stroke="#000" stroke-width="0.08">0</text>
<line x1="48.50" y1="167.57" x2="50.30" y2="167.57" stroke="#5a5a5a" stroke-width="0.8"/>
<text x="47.80" y="170.67" font-size="8.5" text-anchor="end" textLength="10.60" lengthAdjust="spacingAndGlyphs" stroke="#000" stroke-width="0.08">10</text>
<line x1="48.50" y1="149.54" x2="50.30" y2="149.54" stroke="#5a5a5a" stroke-width="0.8"/>
<text x="47.80" y="152.64" font-size="8.5" text-anchor="end" textLength="10.60" lengthAdjust="spacingAndGlyphs" stroke="#000" stroke-width="0.08">20</text>
<line x1="48.50" y1="131.51" x2="50.30" y2="131.51" stroke="#5a5a5a" stroke-width="0.8"/>
<text x="47.80" y="134.61" font-size="8.5" text-anchor="end" textLength="10.60" lengthAdjust="spacingAndGlyphs" stroke="#000" stroke-width="0.08">30</text>
<line x1="48.50" y1="113.48" x2="50.30" y2="113.48" stroke="#5a5a5a" stroke-width="0.8"/>
<text x="47.80" y="116.58" font-size="8.5" text-anchor="end" textLength="10.60" lengthAdjust="spacingAndGlyphs" stroke="#000" stroke-width="0.08">40</text>
<line x1="48.50" y1="95.45" x2="50.30" y2="95.45" stroke="#5a5a5a" stroke-width="0.8"/>
<text x="47.80" y="98.55" font-size="8.5" text-anchor="end" textLength="10.60" lengthAdjust="spacingAndGlyphs" stroke="#000" stroke-width="0.08">50</text>
<line x1="60.60" y1="258.00" x2="60.60" y2="259.80" stroke="#5a5a5a" stroke-width="0.8"/>
<text x="60.60" y="267.80" font-size="8.5" text-anchor="middle" textLength="20.20" lengthAdjust="spacingAndGlyphs" stroke="#000" stroke-width="0.08">2020</text>
<line x1="94.12" y1="258.00" x2="94.12" y2="259.80" stroke="#5a5a5a" stroke-width="0.8"/>
<text x="94.12" y="267.80" font-size="8.5" text-anchor="middle" textLength="20.20" lengthAdjust="spacingAndGlyphs" stroke="#000" stroke-width="0.08">2040</text>
<line x1="127.64" y1="258.00" x2="127.64" y2="259.80" stroke="#5a5a5a" stroke-width="0.8"/>
<text x="127.64" y="267.80" font-size="8.5" text-anchor="middle" textLength="20.20" lengthAdjust="spacingAndGlyphs" stroke="#000" stroke-width="0.08">2060</text>
<line x1="161.16" y1="258.00" x2="161.16" y2="259.80" stroke="#5a5a5a" stroke-width="0.8"/>
<text x="161.16" y="267.80" font-size="8.5" text-anchor="middle" textLength="20.20" lengthAdjust="spacingAndGlyphs" stroke="#000" stroke-width="0.08">2080</text>
<line x1="194.68" y1="258.00" x2="194.68" y2="259.80" stroke="#5a5a5a" stroke-width="0.8"/>
<text x="194.68" y="267.80" font-size="8.5" text-anchor="middle" textLength="20.20" lengthAdjust="spacingAndGlyphs" stroke="#000" stroke-width="0.08">2100</text>
<text x="200.20" y="103.00" font-size="9.0" text-anchor="end" font-weight="bold" stroke="#000" stroke-width="0.22">e</text>
<rect x="210.60" y="176.22" width="5.30" height="9.38" fill="#8b4513"/>
<rect x="210.60" y="148.10" width="5.30" height="28.13" fill="#6b6b6b"/>
<rect x="210.60" y="123.04" width="5.30" height="25.06" fill="#b03c4f"/>
<rect x="210.60" y="109.51" width="5.30" height="13.52" fill="#2a77a8"/>
<rect x="210.60" y="109.51" width="5.30" height="76.09" fill="url(#hd)"/>
<line x1="215.90" y1="109.51" x2="215.90" y2="185.60" stroke="#fff" stroke-opacity="0.35" stroke-width="0.5"/>
<path d="M211.05,109.31H215.45" stroke="#9a9a9a" stroke-width="0.8" fill="none"/>
<rect x="215.90" y="176.22" width="5.30" height="9.38" fill="#8b4513"/>
<rect x="215.90" y="148.10" width="5.30" height="28.13" fill="#6b6b6b"/>
<rect x="215.90" y="123.04" width="5.30" height="25.06" fill="#b03c4f"/>
<rect x="215.90" y="109.51" width="5.30" height="13.52" fill="#2a77a8"/>
<rect x="215.90" y="109.51" width="5.30" height="76.09" fill="url(#hs)"/>
<line x1="221.20" y1="109.51" x2="221.20" y2="185.60" stroke="#fff" stroke-opacity="0.35" stroke-width="0.5"/>
<path d="M216.35,109.31H220.75" stroke="#9a9a9a" stroke-width="0.8" fill="none"/>
<rect x="221.20" y="176.22" width="5.30" height="9.38" fill="#8b4513"/>
<rect x="221.20" y="148.10" width="5.30" height="28.13" fill="#6b6b6b"/>
<rect x="221.20" y="123.04" width="5.30" height="25.06" fill="#b03c4f"/>
<rect x="221.20" y="109.51" width="5.30" height="13.52" fill="#2a77a8"/>
<line x1="226.50" y1="109.51" x2="226.50" y2="185.60" stroke="#fff" stroke-opacity="0.35" stroke-width="0.5"/>
<path d="M221.65,109.31H226.05" stroke="#9a9a9a" stroke-width="0.8" fill="none"/>
<rect x="228.20" y="176.95" width="5.20" height="8.65" fill="#8b4513"/>
<rect x="228.20" y="164.32" width="5.20" height="12.62" fill="#6b6b6b"/>
<rect x="228.20" y="145.93" width="5.20" height="18.39" fill="#b03c4f"/>
<rect x="228.20" y="128.44" width="5.20" height="17.49" fill="#2a77a8"/>
<rect x="228.20" y="185.60" width="5.20" height="0.54" fill="#a4c13a"/>
<rect x="228.20" y="128.44" width="5.20" height="57.70" fill="url(#hd)"/>
<line x1="233.40" y1="128.44" x2="233.40" y2="186.14" stroke="#fff" stroke-opacity="0.35" stroke-width="0.5"/>
<path d="M230.80,119.43V137.46M229.10,128.44H232.50" stroke="#7a7a7a" stroke-width="0.9" fill="none"/>
<rect x="233.40" y="176.95" width="5.20" height="8.65" fill="#8b4513"/>
<rect x="233.40" y="161.80" width="5.20" height="15.15" fill="#6b6b6b"/>
<rect x="233.40" y="142.69" width="5.20" height="19.11" fill="#b03c4f"/>
<rect x="233.40" y="125.02" width="5.20" height="17.67" fill="#2a77a8"/>
<rect x="233.40" y="185.60" width="5.20" height="0.54" fill="#a4c13a"/>
<rect x="233.40" y="186.14" width="5.20" height="0.36" fill="#4b0082"/>
<rect x="233.40" y="125.02" width="5.20" height="61.48" fill="url(#hs)"/>
<line x1="238.60" y1="125.02" x2="238.60" y2="186.50" stroke="#fff" stroke-opacity="0.35" stroke-width="0.5"/>
<path d="M236.00,116.00V134.03M234.30,125.02H237.70" stroke="#7a7a7a" stroke-width="0.9" fill="none"/>
<rect x="238.60" y="176.95" width="5.20" height="8.65" fill="#8b4513"/>
<rect x="238.60" y="157.29" width="5.20" height="19.65" fill="#6b6b6b"/>
<rect x="238.60" y="136.92" width="5.20" height="20.37" fill="#b03c4f"/>
<rect x="238.60" y="118.53" width="5.20" height="18.39" fill="#2a77a8"/>
<rect x="238.60" y="185.60" width="5.20" height="0.36" fill="#a4c13a"/>
<rect x="238.60" y="185.96" width="5.20" height="0.72" fill="#2e8b57"/>
<line x1="243.80" y1="118.53" x2="243.80" y2="186.68" stroke="#fff" stroke-opacity="0.35" stroke-width="0.5"/>
<path d="M241.20,109.51V127.54M239.50,118.53H242.90" stroke="#7a7a7a" stroke-width="0.9" fill="none"/>
<path d="M241.20,185.96V189.37M239.50,186.68H242.90" stroke="#7a7a7a" stroke-width="0.9" fill="none"/>
<rect x="245.00" y="178.03" width="5.20" height="7.57" fill="#8b4513"/>
<rect x="245.00" y="170.64" width="5.20" height="7.39" fill="#6b6b6b"/>
<rect x="245.00" y="156.21" width="5.20" height="14.42" fill="#b03c4f"/>
<rect x="245.00" y="139.98" width="5.20" height="16.23" fill="#2a77a8"/>
<rect x="245.00" y="185.60" width="5.20" height="4.33" fill="#a4c13a"/>
<rect x="245.00" y="139.98" width="5.20" height="49.94" fill="url(#hd)"/>
<line x1="250.20" y1="139.98" x2="250.20" y2="189.93" stroke="#fff" stroke-opacity="0.35" stroke-width="0.5"/>
<path d="M247.60,130.97V149.00M245.90,139.98H249.30" stroke="#7a7a7a" stroke-width="0.9" fill="none"/>
<path d="M247.60,186.75V193.10M245.90,189.93H249.30" stroke="#7a7a7a" stroke-width="0.9" fill="none"/>
<rect x="250.20" y="178.03" width="5.20" height="7.57" fill="#8b4513"/>
<rect x="250.20" y="168.11" width="5.20" height="9.92" fill="#6b6b6b"/>
<rect x="250.20" y="153.15" width="5.20" height="14.96" fill="#b03c4f"/>
<rect x="250.20" y="136.20" width="5.20" height="16.95" fill="#2a77a8"/>
<rect x="250.20" y="185.60" width="5.20" height="3.79" fill="#a4c13a"/>
<rect x="250.20" y="189.39" width="5.20" height="1.26" fill="#4b0082"/>
<rect x="250.20" y="136.20" width="5.20" height="54.45" fill="url(#hs)"/>
<line x1="255.40" y1="136.20" x2="255.40" y2="190.65" stroke="#fff" stroke-opacity="0.35" stroke-width="0.5"/>
<path d="M252.80,127.18V145.21M251.10,136.20H254.50" stroke="#7a7a7a" stroke-width="0.9" fill="none"/>
<path d="M252.80,187.37V193.93M251.10,190.65H254.50" stroke="#7a7a7a" stroke-width="0.9" fill="none"/>
<rect x="255.40" y="178.03" width="5.20" height="7.57" fill="#8b4513"/>
<rect x="255.40" y="177.49" width="5.20" height="0.54" fill="#ff7f0e"/>
<rect x="255.40" y="165.05" width="5.20" height="12.44" fill="#6b6b6b"/>
<rect x="255.40" y="146.66" width="5.20" height="18.39" fill="#b03c4f"/>
<rect x="255.40" y="129.53" width="5.20" height="17.13" fill="#2a77a8"/>
<rect x="255.40" y="185.60" width="5.20" height="2.52" fill="#a4c13a"/>
<rect x="255.40" y="188.12" width="5.20" height="0.54" fill="#4b0082"/>
<rect x="255.40" y="188.67" width="5.20" height="2.88" fill="#2e8b57"/>
<line x1="260.60" y1="129.53" x2="260.60" y2="191.55" stroke="#fff" stroke-opacity="0.35" stroke-width="0.5"/>
<path d="M258.00,120.51V138.54M256.30,129.53H259.70" stroke="#7a7a7a" stroke-width="0.9" fill="none"/>
<path d="M258.00,188.13V194.97M256.30,191.55H259.70" stroke="#7a7a7a" stroke-width="0.9" fill="none"/>
<rect x="261.80" y="180.55" width="5.20" height="5.05" fill="#8b4513"/>
<rect x="261.80" y="175.68" width="5.20" height="4.87" fill="#6b6b6b"/>
<rect x="261.80" y="166.85" width="5.20" height="8.83" fill="#b03c4f"/>
<rect x="261.80" y="156.21" width="5.20" height="10.64" fill="#2a77a8"/>
<rect x="261.80" y="185.60" width="5.20" height="11.90" fill="#a4c13a"/>
<rect x="261.80" y="156.21" width="5.20" height="41.29" fill="url(#hd)"/>
<line x1="267.00" y1="156.21" x2="267.00" y2="197.50" stroke="#fff" stroke-opacity="0.35" stroke-width="0.5"/>
<path d="M264.40,147.20V165.23M262.70,156.21H266.10" stroke="#7a7a7a" stroke-width="0.9" fill="none"/>
<path d="M264.40,193.19V201.81M262.70,197.50H266.10" stroke="#7a7a7a" stroke-width="0.9" fill="none"/>
<rect x="267.00" y="180.55" width="5.20" height="5.05" fill="#8b4513"/>
<rect x="267.00" y="173.88" width="5.20" height="6.67" fill="#6b6b6b"/>
<rect x="267.00" y="164.32" width="5.20" height="9.56" fill="#b03c4f"/>
<rect x="267.00" y="151.34" width="5.20" height="12.98" fill="#2a77a8"/>
<rect x="267.00" y="185.60" width="5.20" height="9.38" fill="#a4c13a"/>
<rect x="267.00" y="194.98" width="5.20" height="2.34" fill="#4b0082"/>
<rect x="267.00" y="151.34" width="5.20" height="45.98" fill="url(#hs)"/>
<line x1="272.20" y1="151.34" x2="272.20" y2="197.32" stroke="#fff" stroke-opacity="0.35" stroke-width="0.5"/>
<path d="M269.60,142.33V160.36M267.90,151.34H271.30" stroke="#7a7a7a" stroke-width="0.9" fill="none"/>
<path d="M269.60,193.04V201.60M267.90,197.32H271.30" stroke="#7a7a7a" stroke-width="0.9" fill="none"/>
<rect x="272.20" y="180.55" width="5.20" height="5.05" fill="#8b4513"/>
<rect x="272.20" y="180.01" width="5.20" height="0.54" fill="#ff7f0e"/>
<rect x="272.20" y="172.98" width="5.20" height="7.03" fill="#6b6b6b"/>
<rect x="272.20" y="159.46" width="5.20" height="13.52" fill="#b03c4f"/>
<rect x="272.20" y="143.95" width="5.20" height="15.51" fill="#2a77a8"/>
<rect x="272.20" y="185.60" width="5.20" height="6.85" fill="#a4c13a"/>
<rect x="272.20" y="192.45" width="5.20" height="1.26" fill="#4b0082"/>
<rect x="272.20" y="193.71" width="5.20" height="4.33" fill="#2e8b57"/>
<line x1="277.40" y1="143.95" x2="277.40" y2="198.04" stroke="#fff" stroke-opacity="0.35" stroke-width="0.5"/>
<path d="M274.80,134.94V152.97M273.10,143.95H276.50" stroke="#7a7a7a" stroke-width="0.9" fill="none"/>
<path d="M274.80,193.65V202.43M273.10,198.04H276.50" stroke="#7a7a7a" stroke-width="0.9" fill="none"/>
<rect x="278.60" y="182.17" width="5.20" height="3.43" fill="#8b4513"/>
<rect x="278.60" y="179.29" width="5.20" height="2.88" fill="#6b6b6b"/>
<rect x="278.60" y="174.96" width="5.20" height="4.33" fill="#b03c4f"/>
<rect x="278.60" y="168.11" width="5.20" height="6.85" fill="#2a77a8"/>
<rect x="278.60" y="185.60" width="5.20" height="17.49" fill="#a4c13a"/>
<rect x="278.60" y="168.11" width="5.20" height="34.98" fill="url(#hd)"/>
<line x1="283.80" y1="168.11" x2="283.80" y2="203.09" stroke="#fff" stroke-opacity="0.35" stroke-width="0.5"/>
<path d="M281.20,159.10V177.13M279.50,168.11H282.90" stroke="#7a7a7a" stroke-width="0.9" fill="none"/>
<path d="M281.20,197.94V208.24M279.50,203.09H282.90" stroke="#7a7a7a" stroke-width="0.9" fill="none"/>
<rect x="283.80" y="182.17" width="5.20" height="3.43" fill="#8b4513"/>
<rect x="283.80" y="179.29" width="5.20" height="2.88" fill="#6b6b6b"/>
<rect x="283.80" y="173.88" width="5.20" height="5.41" fill="#b03c4f"/>
<rect x="283.80" y="165.05" width="5.20" height="8.83" fill="#2a77a8"/>
<rect x="283.80" y="185.60" width="5.20" height="15.33" fill="#a4c13a"/>
<rect x="283.80" y="200.93" width="5.20" height="4.15" fill="#4b0082"/>
<rect x="283.80" y="165.05" width="5.20" height="40.03" fill="url(#hs)"/>
<line x1="289.00" y1="165.05" x2="289.00" y2="205.07" stroke="#fff" stroke-opacity="0.35" stroke-width="0.5"/>
<path d="M286.40,156.03V174.06M284.70,165.05H288.10" stroke="#7a7a7a" stroke-width="0.9" fill="none"/>
<path d="M286.40,199.63V210.52M284.70,205.07H288.10" stroke="#7a7a7a" stroke-width="0.9" fill="none"/>
<rect x="289.00" y="182.17" width="5.20" height="3.43" fill="#8b4513"/>
<rect x="289.00" y="181.27" width="5.20" height="0.90" fill="#ff7f0e"/>
<rect x="289.00" y="179.11" width="5.20" height="2.16" fill="#6b6b6b"/>
<rect x="289.00" y="168.83" width="5.20" height="10.28" fill="#b03c4f"/>
<rect x="289.00" y="158.19" width="5.20" height="10.64" fill="#2a77a8"/>
<rect x="289.00" y="185.60" width="5.20" height="12.44" fill="#a4c13a"/>
<rect x="289.00" y="198.04" width="5.20" height="1.98" fill="#4b0082"/>
<rect x="289.00" y="200.02" width="5.20" height="6.31" fill="#2e8b57"/>
<line x1="294.20" y1="158.19" x2="294.20" y2="206.33" stroke="#fff" stroke-opacity="0.35" stroke-width="0.5"/>
<path d="M291.60,149.18V167.21M289.90,158.19H293.30" stroke="#7a7a7a" stroke-width="0.9" fill="none"/>
<path d="M291.60,200.70V211.97M289.90,206.33H293.30" stroke="#7a7a7a" stroke-width="0.9" fill="none"/>
<rect x="295.40" y="183.98" width="5.20" height="1.62" fill="#8b4513"/>
<rect x="295.40" y="183.08" width="5.20" height="0.90" fill="#6b6b6b"/>
<rect x="295.40" y="179.29" width="5.20" height="3.79" fill="#b03c4f"/>
<rect x="295.40" y="176.95" width="5.20" height="2.34" fill="#2a77a8"/>
<rect x="295.40" y="185.60" width="5.20" height="21.28" fill="#a4c13a"/>
<rect x="295.40" y="176.95" width="5.20" height="29.93" fill="url(#hd)"/>
<line x1="300.60" y1="176.95" x2="300.60" y2="206.88" stroke="#fff" stroke-opacity="0.35" stroke-width="0.5"/>
<path d="M298.00,172.44V181.45M296.30,176.95H299.70" stroke="#7a7a7a" stroke-width="0.9" fill="none"/>
<path d="M298.00,201.16V212.59M296.30,206.88H299.70" stroke="#7a7a7a" stroke-width="0.9" fill="none"/>
<rect x="300.60" y="183.98" width="5.20" height="1.62" fill="#8b4513"/>
<rect x="300.60" y="183.08" width="5.20" height="0.90" fill="#6b6b6b"/>
<rect x="300.60" y="178.03" width="5.20" height="5.05" fill="#b03c4f"/>
<rect x="300.60" y="174.42" width="5.20" height="3.61" fill="#2a77a8"/>
<rect x="300.60" y="185.60" width="5.20" height="20.73" fill="#a4c13a"/>
<rect x="300.60" y="206.33" width="5.20" height="6.13" fill="#4b0082"/>
<rect x="300.60" y="174.42" width="5.20" height="38.04" fill="url(#hs)"/>
<line x1="305.80" y1="174.42" x2="305.80" y2="212.46" stroke="#fff" stroke-opacity="0.35" stroke-width="0.5"/>
<path d="M303.20,169.91V178.93M301.50,174.42H304.90" stroke="#7a7a7a" stroke-width="0.9" fill="none"/>
<path d="M303.20,205.91V219.02M301.50,212.46H304.90" stroke="#7a7a7a" stroke-width="0.9" fill="none"/>
<rect x="305.80" y="184.88" width="5.20" height="0.72" fill="#8b4513"/>
<rect x="305.80" y="183.08" width="5.20" height="1.80" fill="#ff7f0e"/>
<rect x="305.80" y="182.53" width="5.20" height="0.54" fill="#6b6b6b"/>
<rect x="305.80" y="174.96" width="5.20" height="7.57" fill="#b03c4f"/>
<rect x="305.80" y="170.09" width="5.20" height="4.87" fill="#2a77a8"/>
<rect x="305.80" y="185.60" width="5.20" height="18.21" fill="#a4c13a"/>
<rect x="305.80" y="203.81" width="5.20" height="7.39" fill="#4b0082"/>
<rect x="305.80" y="211.20" width="5.20" height="7.93" fill="#2e8b57"/>
<line x1="311.00" y1="170.09" x2="311.00" y2="219.14" stroke="#fff" stroke-opacity="0.35" stroke-width="0.5"/>
<path d="M308.40,165.59V174.60M306.70,170.09H310.10" stroke="#7a7a7a" stroke-width="0.9" fill="none"/>
<path d="M308.40,211.58V226.69M306.70,219.14H310.10" stroke="#7a7a7a" stroke-width="0.9" fill="none"/>
<rect x="312.20" y="185.24" width="5.20" height="0.36" fill="#8b4513"/>
<rect x="312.20" y="184.34" width="5.20" height="0.90" fill="#6b6b6b"/>
<rect x="312.20" y="183.08" width="5.20" height="1.26" fill="#b03c4f"/>
<rect x="312.20" y="181.27" width="5.20" height="1.80" fill="#2a77a8"/>
<rect x="312.20" y="185.60" width="5.20" height="24.34" fill="#a4c13a"/>
<rect x="312.20" y="181.27" width="5.20" height="28.67" fill="url(#hd)"/>
<line x1="317.40" y1="181.27" x2="317.40" y2="209.94" stroke="#fff" stroke-opacity="0.35" stroke-width="0.5"/>
<path d="M314.80,176.77V185.24M313.10,181.27H316.50" stroke="#7a7a7a" stroke-width="0.9" fill="none"/>
<path d="M314.80,203.77V216.12M313.10,209.94H316.50" stroke="#7a7a7a" stroke-width="0.9" fill="none"/>
<rect x="317.40" y="185.24" width="5.20" height="0.36" fill="#8b4513"/>
<rect x="317.40" y="184.34" width="5.20" height="0.90" fill="#6b6b6b"/>
<rect x="317.40" y="181.99" width="5.20" height="2.34" fill="#b03c4f"/>
<rect x="317.40" y="179.29" width="5.20" height="2.70" fill="#2a77a8"/>
<rect x="317.40" y="185.60" width="5.20" height="24.34" fill="#a4c13a"/>
<rect x="317.40" y="209.94" width="5.20" height="6.85" fill="#4b0082"/>
<rect x="317.40" y="179.29" width="5.20" height="37.50" fill="url(#hs)"/>
<line x1="322.60" y1="179.29" x2="322.60" y2="216.79" stroke="#fff" stroke-opacity="0.35" stroke-width="0.5"/>
<path d="M320.00,174.78V183.80M318.30,179.29H321.70" stroke="#7a7a7a" stroke-width="0.9" fill="none"/>
<path d="M320.00,209.59V223.99M318.30,216.79H321.70" stroke="#7a7a7a" stroke-width="0.9" fill="none"/>
<rect x="322.60" y="185.24" width="5.20" height="0.36" fill="#8b4513"/>
<rect x="322.60" y="184.34" width="5.20" height="0.90" fill="#ff7f0e"/>
<rect x="322.60" y="183.98" width="5.20" height="0.36" fill="#6b6b6b"/>
<rect x="322.60" y="179.83" width="5.20" height="4.15" fill="#b03c4f"/>
<rect x="322.60" y="176.22" width="5.20" height="3.61" fill="#2a77a8"/>
<rect x="322.60" y="185.60" width="5.20" height="23.80" fill="#a4c13a"/>
<rect x="322.60" y="209.40" width="5.20" height="12.98" fill="#4b0082"/>
<rect x="322.60" y="222.38" width="5.20" height="8.83" fill="#2e8b57"/>
<line x1="327.80" y1="176.22" x2="327.80" y2="231.22" stroke="#fff" stroke-opacity="0.35" stroke-width="0.5"/>
<path d="M325.20,171.72V180.73M323.50,176.22H326.90" stroke="#7a7a7a" stroke-width="0.9" fill="none"/>
<path d="M325.20,221.85V240.58M323.50,231.22H326.90" stroke="#7a7a7a" stroke-width="0.9" fill="none"/>
<rect x="329.00" y="185.60" width="5.20" height="1.26" fill="#8b4513"/>
<rect x="329.00" y="184.70" width="5.20" height="0.90" fill="#6b6b6b"/>
<rect x="329.00" y="183.80" width="5.20" height="0.90" fill="#b03c4f"/>
<rect x="329.00" y="182.53" width="5.20" height="1.26" fill="#2a77a8"/>
<rect x="329.00" y="186.86" width="5.20" height="25.06" fill="#a4c13a"/>
<rect x="329.00" y="182.53" width="5.20" height="29.39" fill="url(#hd)"/>
<line x1="334.20" y1="182.53" x2="334.20" y2="211.92" stroke="#fff" stroke-opacity="0.35" stroke-width="0.5"/>
<path d="M331.60,178.03V185.24M329.90,182.53H333.30" stroke="#7a7a7a" stroke-width="0.9" fill="none"/>
<path d="M331.60,205.45V218.40M329.90,211.92H333.30" stroke="#7a7a7a" stroke-width="0.9" fill="none"/>
<rect x="334.20" y="185.60" width="5.20" height="1.26" fill="#8b4513"/>
<rect x="334.20" y="184.70" width="5.20" height="0.90" fill="#6b6b6b"/>
<rect x="334.20" y="183.08" width="5.20" height="1.62" fill="#b03c4f"/>
<rect x="334.20" y="181.27" width="5.20" height="1.80" fill="#2a77a8"/>
<rect x="334.20" y="186.86" width="5.20" height="25.06" fill="#a4c13a"/>
<rect x="334.20" y="211.92" width="5.20" height="8.65" fill="#4b0082"/>
<rect x="334.20" y="181.27" width="5.20" height="39.31" fill="url(#hs)"/>
<line x1="339.40" y1="181.27" x2="339.40" y2="220.58" stroke="#fff" stroke-opacity="0.35" stroke-width="0.5"/>
<path d="M336.80,176.77V185.24M335.10,181.27H338.50" stroke="#7a7a7a" stroke-width="0.9" fill="none"/>
<path d="M336.80,212.81V228.35M335.10,220.58H338.50" stroke="#7a7a7a" stroke-width="0.9" fill="none"/>
<rect x="339.40" y="185.60" width="5.20" height="1.26" fill="#8b4513"/>
<rect x="339.40" y="184.52" width="5.20" height="1.08" fill="#6b6b6b"/>
<rect x="339.40" y="181.45" width="5.20" height="3.07" fill="#b03c4f"/>
<rect x="339.40" y="179.29" width="5.20" height="2.16" fill="#2a77a8"/>
<rect x="339.40" y="186.86" width="5.20" height="25.06" fill="#a4c13a"/>
<rect x="339.40" y="211.92" width="5.20" height="12.44" fill="#4b0082"/>
<rect x="339.40" y="224.36" width="5.20" height="7.39" fill="#2e8b57"/>
<line x1="344.60" y1="179.29" x2="344.60" y2="231.76" stroke="#fff" stroke-opacity="0.35" stroke-width="0.5"/>
<path d="M342.00,174.78V183.80M340.30,179.29H343.70" stroke="#7a7a7a" stroke-width="0.9" fill="none"/>
<path d="M342.00,222.31V241.20M340.30,231.76H343.70" stroke="#7a7a7a" stroke-width="0.9" fill="none"/>
<rect x="345.80" y="185.60" width="5.20" height="2.88" fill="#8b4513"/>
<rect x="345.80" y="184.16" width="5.20" height="1.44" fill="#6b6b6b"/>
<rect x="345.80" y="182.35" width="5.20" height="1.80" fill="#b03c4f"/>
<rect x="345.80" y="180.55" width="5.20" height="1.80" fill="#2a77a8"/>
<rect x="345.80" y="188.48" width="5.20" height="22.00" fill="#a4c13a"/>
<rect x="345.80" y="180.55" width="5.20" height="29.93" fill="url(#hd)"/>
<line x1="351.00" y1="180.55" x2="351.00" y2="210.48" stroke="#fff" stroke-opacity="0.35" stroke-width="0.5"/>
<path d="M348.40,176.04V185.06M346.70,180.55H350.10" stroke="#7a7a7a" stroke-width="0.9" fill="none"/>
<path d="M348.40,204.22V216.74M346.70,210.48H350.10" stroke="#7a7a7a" stroke-width="0.9" fill="none"/>
<rect x="351.00" y="185.60" width="5.20" height="2.88" fill="#8b4513"/>
<rect x="351.00" y="184.16" width="5.20" height="1.44" fill="#6b6b6b"/>
<rect x="351.00" y="181.09" width="5.20" height="3.07" fill="#b03c4f"/>
<rect x="351.00" y="178.93" width="5.20" height="2.16" fill="#2a77a8"/>
<rect x="351.00" y="188.48" width="5.20" height="23.44" fill="#a4c13a"/>
<rect x="351.00" y="211.92" width="5.20" height="4.15" fill="#4b0082"/>
<rect x="351.00" y="178.93" width="5.20" height="37.14" fill="url(#hs)"/>
<line x1="356.20" y1="178.93" x2="356.20" y2="216.07" stroke="#fff" stroke-opacity="0.35" stroke-width="0.5"/>
<path d="M353.60,174.42V183.44M351.90,178.93H355.30" stroke="#7a7a7a" stroke-width="0.9" fill="none"/>
<path d="M353.60,208.98V223.17M351.90,216.07H355.30" stroke="#7a7a7a" stroke-width="0.9" fill="none"/>
<rect x="356.20" y="185.60" width="5.20" height="2.88" fill="#8b4513"/>
<rect x="356.20" y="183.80" width="5.20" height="1.80" fill="#6b6b6b"/>
<rect x="356.20" y="179.47" width="5.20" height="4.33" fill="#b03c4f"/>
<rect x="356.20" y="176.22" width="5.20" height="3.25" fill="#2a77a8"/>
<rect x="356.20" y="188.48" width="5.20" height="23.44" fill="#a4c13a"/>
<rect x="356.20" y="211.92" width="5.20" height="4.87" fill="#4b0082"/>
<rect x="356.20" y="216.79" width="5.20" height="5.59" fill="#2e8b57"/>
<line x1="361.40" y1="176.22" x2="361.40" y2="222.38" stroke="#fff" stroke-opacity="0.35" stroke-width="0.5"/>
<path d="M358.80,171.72V180.73M357.10,176.22H360.50" stroke="#7a7a7a" stroke-width="0.9" fill="none"/>
<path d="M358.80,214.34V230.42M357.10,222.38H360.50" stroke="#7a7a7a" stroke-width="0.9" fill="none"/>
<path d="M220.90,109.51C226.49,114.56 232.07,119.10 237.66,124.66C243.25,130.22 248.83,135.36 254.42,142.87C260.01,150.38 265.59,162.16 271.18,169.73C276.77,177.31 282.35,183.71 287.94,188.30C293.53,192.90 299.11,194.71 304.70,197.32C310.29,199.93 315.87,202.34 321.46,203.99C327.05,205.64 332.63,207.24 338.22,207.24C343.81,207.24 349.39,206.88 354.98,206.70" fill="none" stroke="#ff0000" stroke-dasharray="1.1 1.5" stroke-width="1.15" stroke-linejoin="round"/>
<path d="M220.90,109.51C226.49,113.90 232.07,117.45 237.66,122.68C243.25,127.90 248.83,133.49 254.42,140.89C260.01,148.28 265.59,159.58 271.18,167.03C276.77,174.48 282.35,179.95 287.94,185.60C293.53,191.25 299.11,196.75 304.70,200.93C310.29,205.10 315.87,208.38 321.46,210.66C327.05,212.95 332.63,213.31 338.22,214.63C343.81,212.89 349.39,211.14 354.98,209.40" fill="none" stroke="#ff0000" stroke-dasharray="3 1.6" stroke-width="1.15" stroke-linejoin="round"/>
<path d="M220.90,109.51C226.49,112.82 232.07,115.31 237.66,119.43C243.25,123.55 248.83,127.81 254.42,134.21C260.01,140.62 265.59,149.66 271.18,157.83C276.77,166.01 282.35,175.53 287.94,183.26C293.53,190.98 299.11,197.92 304.70,204.17C310.29,210.42 315.87,217.33 321.46,220.76C327.05,224.18 332.63,223.40 338.22,224.73C343.81,220.52 349.39,216.31 354.98,212.10" fill="none" stroke="#ff0000" stroke-width="1.25" stroke-linejoin="round"/>
<rect x="210.60" y="95.50" width="151.20" height="162.50" fill="none" stroke="#5a5a5a" stroke-width="0.8"/>
<line x1="208.80" y1="257.72" x2="210.60" y2="257.72" stroke="#5a5a5a" stroke-width="0.8"/>
<line x1="208.80" y1="239.69" x2="210.60" y2="239.69" stroke="#5a5a5a" stroke-width="0.8"/>
<line x1="208.80" y1="221.66" x2="210.60" y2="221.66" stroke="#5a5a5a" stroke-width="0.8"/>
<line x1="208.80" y1="203.63" x2="210.60" y2="203.63" stroke="#5a5a5a" stroke-width="0.8"/>
<line x1="208.80" y1="185.60" x2="210.60" y2="185.60" stroke="#5a5a5a" stroke-width="0.8"/>
<line x1="208.80" y1="167.57" x2="210.60" y2="167.57" stroke="#5a5a5a" stroke-width="0.8"/>
<line x1="208.80" y1="149.54" x2="210.60" y2="149.54" stroke="#5a5a5a" stroke-width="0.8"/>
<line x1="208.80" y1="131.51" x2="210.60" y2="131.51" stroke="#5a5a5a" stroke-width="0.8"/>
<line x1="208.80" y1="113.48" x2="210.60" y2="113.48" stroke="#5a5a5a" stroke-width="0.8"/>
<line x1="208.80" y1="95.45" x2="210.60" y2="95.45" stroke="#5a5a5a" stroke-width="0.8"/>
<line x1="220.90" y1="258.00" x2="220.90" y2="259.80" stroke="#5a5a5a" stroke-width="0.8"/>
<text x="220.90" y="267.80" font-size="8.5" text-anchor="middle" textLength="20.20" lengthAdjust="spacingAndGlyphs" stroke="#000" stroke-width="0.08">2020</text>
<line x1="254.42" y1="258.00" x2="254.42" y2="259.80" stroke="#5a5a5a" stroke-width="0.8"/>
<text x="254.42" y="267.80" font-size="8.5" text-anchor="middle" textLength="20.20" lengthAdjust="spacingAndGlyphs" stroke="#000" stroke-width="0.08">2040</text>
<line x1="287.94" y1="258.00" x2="287.94" y2="259.80" stroke="#5a5a5a" stroke-width="0.8"/>
<text x="287.94" y="267.80" font-size="8.5" text-anchor="middle" textLength="20.20" lengthAdjust="spacingAndGlyphs" stroke="#000" stroke-width="0.08">2060</text>
<line x1="321.46" y1="258.00" x2="321.46" y2="259.80" stroke="#5a5a5a" stroke-width="0.8"/>
<text x="321.46" y="267.80" font-size="8.5" text-anchor="middle" textLength="20.20" lengthAdjust="spacingAndGlyphs" stroke="#000" stroke-width="0.08">2080</text>
<line x1="354.98" y1="258.00" x2="354.98" y2="259.80" stroke="#5a5a5a" stroke-width="0.8"/>
<text x="354.98" y="267.80" font-size="8.5" text-anchor="middle" textLength="20.20" lengthAdjust="spacingAndGlyphs" stroke="#000" stroke-width="0.08">2100</text>
<text x="360.50" y="103.00" font-size="9.0" text-anchor="end" font-weight="bold" stroke="#000" stroke-width="0.22">f</text>
<rect x="370.90" y="176.22" width="5.30" height="9.38" fill="#8b4513"/>
<rect x="370.90" y="148.10" width="5.30" height="28.13" fill="#6b6b6b"/>
<rect x="370.90" y="123.04" width="5.30" height="25.06" fill="#b03c4f"/>
<rect x="370.90" y="109.51" width="5.30" height="13.52" fill="#2a77a8"/>
<rect x="370.90" y="109.51" width="5.30" height="76.09" fill="url(#hd)"/>
<line x1="376.20" y1="109.51" x2="376.20" y2="185.60" stroke="#fff" stroke-opacity="0.35" stroke-width="0.5"/>
<path d="M371.35,109.31H375.75" stroke="#9a9a9a" stroke-width="0.8" fill="none"/>
<rect x="376.20" y="176.22" width="5.30" height="9.38" fill="#8b4513"/>
<rect x="376.20" y="148.10" width="5.30" height="28.13" fill="#6b6b6b"/>
<rect x="376.20" y="123.04" width="5.30" height="25.06" fill="#b03c4f"/>
<rect x="376.20" y="109.51" width="5.30" height="13.52" fill="#2a77a8"/>
<rect x="376.20" y="109.51" width="5.30" height="76.09" fill="url(#hs)"/>
<line x1="381.50" y1="109.51" x2="381.50" y2="185.60" stroke="#fff" stroke-opacity="0.35" stroke-width="0.5"/>
<path d="M376.65,109.31H381.05" stroke="#9a9a9a" stroke-width="0.8" fill="none"/>
<rect x="381.50" y="176.22" width="5.30" height="9.38" fill="#8b4513"/>
<rect x="381.50" y="148.10" width="5.30" height="28.13" fill="#6b6b6b"/>
<rect x="381.50" y="123.04" width="5.30" height="25.06" fill="#b03c4f"/>
<rect x="381.50" y="109.51" width="5.30" height="13.52" fill="#2a77a8"/>
<line x1="386.80" y1="109.51" x2="386.80" y2="185.60" stroke="#fff" stroke-opacity="0.35" stroke-width="0.5"/>
<path d="M381.95,109.31H386.35" stroke="#9a9a9a" stroke-width="0.8" fill="none"/>
<rect x="388.50" y="176.95" width="5.20" height="8.65" fill="#8b4513"/>
<rect x="388.50" y="158.19" width="5.20" height="18.75" fill="#6b6b6b"/>
<rect x="388.50" y="138.72" width="5.20" height="19.47" fill="#b03c4f"/>
<rect x="388.50" y="122.50" width="5.20" height="16.23" fill="#2a77a8"/>
<rect x="388.50" y="122.50" width="5.20" height="63.10" fill="url(#hd)"/>
<line x1="393.70" y1="122.50" x2="393.70" y2="185.60" stroke="#fff" stroke-opacity="0.35" stroke-width="0.5"/>
<path d="M391.10,109.87V135.12M389.40,122.50H392.80" stroke="#7a7a7a" stroke-width="0.9" fill="none"/>
<rect x="393.70" y="176.95" width="5.20" height="8.65" fill="#8b4513"/>
<rect x="393.70" y="157.83" width="5.20" height="19.11" fill="#6b6b6b"/>
<rect x="393.70" y="138.72" width="5.20" height="19.11" fill="#b03c4f"/>
<rect x="393.70" y="121.59" width="5.20" height="17.13" fill="#2a77a8"/>
<rect x="393.70" y="121.59" width="5.20" height="64.01" fill="url(#hs)"/>
<line x1="398.90" y1="121.59" x2="398.90" y2="185.60" stroke="#fff" stroke-opacity="0.35" stroke-width="0.5"/>
<path d="M396.30,108.97V134.21M394.60,121.59H398.00" stroke="#7a7a7a" stroke-width="0.9" fill="none"/>
<rect x="398.90" y="176.95" width="5.20" height="8.65" fill="#8b4513"/>
<rect x="398.90" y="156.21" width="5.20" height="20.73" fill="#6b6b6b"/>
<rect x="398.90" y="136.92" width="5.20" height="19.29" fill="#b03c4f"/>
<rect x="398.90" y="119.79" width="5.20" height="17.13" fill="#2a77a8"/>
<rect x="398.90" y="185.60" width="5.20" height="1.80" fill="#2e8b57"/>
<line x1="404.10" y1="119.79" x2="404.10" y2="187.40" stroke="#fff" stroke-opacity="0.35" stroke-width="0.5"/>
<path d="M401.50,107.17V132.41M399.80,119.79H403.20" stroke="#7a7a7a" stroke-width="0.9" fill="none"/>
<path d="M401.50,186.14V188.67M399.80,187.40H403.20" stroke="#7a7a7a" stroke-width="0.9" fill="none"/>
<rect x="405.30" y="178.75" width="5.20" height="6.85" fill="#8b4513"/>
<rect x="405.30" y="163.96" width="5.20" height="14.78" fill="#6b6b6b"/>
<rect x="405.30" y="147.56" width="5.20" height="16.41" fill="#b03c4f"/>
<rect x="405.30" y="131.87" width="5.20" height="15.69" fill="#2a77a8"/>
<rect x="405.30" y="185.60" width="5.20" height="2.88" fill="#a4c13a"/>
<rect x="405.30" y="131.87" width="5.20" height="56.61" fill="url(#hd)"/>
<line x1="410.50" y1="131.87" x2="410.50" y2="188.48" stroke="#fff" stroke-opacity="0.35" stroke-width="0.5"/>
<path d="M407.90,119.25V144.49M406.20,131.87H409.60" stroke="#7a7a7a" stroke-width="0.9" fill="none"/>
<path d="M407.90,187.01V189.96M406.20,188.48H409.60" stroke="#7a7a7a" stroke-width="0.9" fill="none"/>
<rect x="410.50" y="178.75" width="5.20" height="6.85" fill="#8b4513"/>
<rect x="410.50" y="163.96" width="5.20" height="14.78" fill="#6b6b6b"/>
<rect x="410.50" y="146.84" width="5.20" height="17.13" fill="#b03c4f"/>
<rect x="410.50" y="130.97" width="5.20" height="15.87" fill="#2a77a8"/>
<rect x="410.50" y="185.60" width="5.20" height="2.88" fill="#a4c13a"/>
<rect x="410.50" y="188.48" width="5.20" height="1.26" fill="#4b0082"/>
<rect x="410.50" y="130.97" width="5.20" height="58.78" fill="url(#hs)"/>
<line x1="415.70" y1="130.97" x2="415.70" y2="189.75" stroke="#fff" stroke-opacity="0.35" stroke-width="0.5"/>
<path d="M413.10,118.35V143.59M411.40,130.97H414.80" stroke="#7a7a7a" stroke-width="0.9" fill="none"/>
<path d="M413.10,188.02V191.48M411.40,189.75H414.80" stroke="#7a7a7a" stroke-width="0.9" fill="none"/>
<rect x="415.70" y="178.75" width="5.20" height="6.85" fill="#8b4513"/>
<rect x="415.70" y="161.80" width="5.20" height="16.95" fill="#6b6b6b"/>
<rect x="415.70" y="145.03" width="5.20" height="16.77" fill="#b03c4f"/>
<rect x="415.70" y="128.81" width="5.20" height="16.23" fill="#2a77a8"/>
<rect x="415.70" y="185.60" width="5.20" height="2.16" fill="#a4c13a"/>
<rect x="415.70" y="187.76" width="5.20" height="0.72" fill="#4b0082"/>
<rect x="415.70" y="188.48" width="5.20" height="4.69" fill="#2e8b57"/>
<line x1="420.90" y1="128.81" x2="420.90" y2="193.17" stroke="#fff" stroke-opacity="0.35" stroke-width="0.5"/>
<path d="M418.30,116.18V141.43M416.60,128.81H420.00" stroke="#7a7a7a" stroke-width="0.9" fill="none"/>
<path d="M418.30,190.76V195.59M416.60,193.17H420.00" stroke="#7a7a7a" stroke-width="0.9" fill="none"/>
<rect x="422.10" y="181.09" width="5.20" height="4.51" fill="#8b4513"/>
<rect x="422.10" y="169.73" width="5.20" height="11.36" fill="#6b6b6b"/>
<rect x="422.10" y="156.93" width="5.20" height="12.80" fill="#b03c4f"/>
<rect x="422.10" y="143.05" width="5.20" height="13.88" fill="#2a77a8"/>
<rect x="422.10" y="185.60" width="5.20" height="5.59" fill="#a4c13a"/>
<rect x="422.10" y="143.05" width="5.20" height="48.14" fill="url(#hd)"/>
<line x1="427.30" y1="143.05" x2="427.30" y2="191.19" stroke="#fff" stroke-opacity="0.35" stroke-width="0.5"/>
<path d="M424.70,130.43V155.67M423.00,143.05H426.40" stroke="#7a7a7a" stroke-width="0.9" fill="none"/>
<path d="M424.70,189.17V193.21M423.00,191.19H426.40" stroke="#7a7a7a" stroke-width="0.9" fill="none"/>
<rect x="427.30" y="181.09" width="5.20" height="4.51" fill="#8b4513"/>
<rect x="427.30" y="169.73" width="5.20" height="11.36" fill="#6b6b6b"/>
<rect x="427.30" y="156.21" width="5.20" height="13.52" fill="#b03c4f"/>
<rect x="427.30" y="142.69" width="5.20" height="13.52" fill="#2a77a8"/>
<rect x="427.30" y="185.60" width="5.20" height="5.59" fill="#a4c13a"/>
<rect x="427.30" y="191.19" width="5.20" height="1.98" fill="#4b0082"/>
<rect x="427.30" y="142.69" width="5.20" height="50.48" fill="url(#hs)"/>
<line x1="432.50" y1="142.69" x2="432.50" y2="193.17" stroke="#fff" stroke-opacity="0.35" stroke-width="0.5"/>
<path d="M429.90,130.07V155.31M428.20,142.69H431.60" stroke="#7a7a7a" stroke-width="0.9" fill="none"/>
<path d="M429.90,190.76V195.59M428.20,193.17H431.60" stroke="#7a7a7a" stroke-width="0.9" fill="none"/>
<rect x="432.50" y="181.09" width="5.20" height="4.51" fill="#8b4513"/>
<rect x="432.50" y="168.11" width="5.20" height="12.98" fill="#6b6b6b"/>
<rect x="432.50" y="154.41" width="5.20" height="13.70" fill="#b03c4f"/>
<rect x="432.50" y="140.16" width="5.20" height="14.24" fill="#2a77a8"/>
<rect x="432.50" y="185.60" width="5.20" height="5.05" fill="#a4c13a"/>
<rect x="432.50" y="190.65" width="5.20" height="1.08" fill="#4b0082"/>
<rect x="432.50" y="191.73" width="5.20" height="4.51" fill="#2e8b57"/>
<line x1="437.70" y1="140.16" x2="437.70" y2="196.24" stroke="#fff" stroke-opacity="0.35" stroke-width="0.5"/>
<path d="M435.10,127.54V152.79M433.40,140.16H436.80" stroke="#7a7a7a" stroke-width="0.9" fill="none"/>
<path d="M435.10,193.21V199.27M433.40,196.24H436.80" stroke="#7a7a7a" stroke-width="0.9" fill="none"/>
<rect x="438.90" y="182.53" width="5.20" height="3.07" fill="#8b4513"/>
<rect x="438.90" y="173.70" width="5.20" height="8.83" fill="#6b6b6b"/>
<rect x="438.90" y="163.06" width="5.20" height="10.64" fill="#b03c4f"/>
<rect x="438.90" y="152.42" width="5.20" height="10.64" fill="#2a77a8"/>
<rect x="438.90" y="185.60" width="5.20" height="9.38" fill="#a4c13a"/>
<rect x="438.90" y="152.42" width="5.20" height="42.55" fill="url(#hd)"/>
<line x1="444.10" y1="152.42" x2="444.10" y2="194.98" stroke="#fff" stroke-opacity="0.35" stroke-width="0.5"/>
<path d="M441.50,143.41V161.44M439.80,152.42H443.20" stroke="#7a7a7a" stroke-width="0.9" fill="none"/>
<path d="M441.50,192.20V197.75M439.80,194.98H443.20" stroke="#7a7a7a" stroke-width="0.9" fill="none"/>
<rect x="444.10" y="182.53" width="5.20" height="3.07" fill="#8b4513"/>
<rect x="444.10" y="173.70" width="5.20" height="8.83" fill="#6b6b6b"/>
<rect x="444.10" y="162.70" width="5.20" height="11.00" fill="#b03c4f"/>
<rect x="444.10" y="152.24" width="5.20" height="10.46" fill="#2a77a8"/>
<rect x="444.10" y="185.60" width="5.20" height="9.02" fill="#a4c13a"/>
<rect x="444.10" y="194.62" width="5.20" height="0.54" fill="#4b0082"/>
<rect x="444.10" y="152.24" width="5.20" height="42.91" fill="url(#hs)"/>
<line x1="449.30" y1="152.24" x2="449.30" y2="195.16" stroke="#fff" stroke-opacity="0.35" stroke-width="0.5"/>
<path d="M446.70,143.23V161.26M445.00,152.24H448.40" stroke="#7a7a7a" stroke-width="0.9" fill="none"/>
<path d="M446.70,192.34V197.97M445.00,195.16H448.40" stroke="#7a7a7a" stroke-width="0.9" fill="none"/>
<rect x="449.30" y="182.53" width="5.20" height="3.07" fill="#8b4513"/>
<rect x="449.30" y="173.16" width="5.20" height="9.38" fill="#6b6b6b"/>
<rect x="449.30" y="161.80" width="5.20" height="11.36" fill="#b03c4f"/>
<rect x="449.30" y="149.36" width="5.20" height="12.44" fill="#2a77a8"/>
<rect x="449.30" y="185.60" width="5.20" height="7.93" fill="#a4c13a"/>
<rect x="449.30" y="193.53" width="5.20" height="0.72" fill="#4b0082"/>
<rect x="449.30" y="194.25" width="5.20" height="3.07" fill="#2e8b57"/>
<line x1="454.50" y1="149.36" x2="454.50" y2="197.32" stroke="#fff" stroke-opacity="0.35" stroke-width="0.5"/>
<path d="M451.90,140.34V158.37M450.20,149.36H453.60" stroke="#7a7a7a" stroke-width="0.9" fill="none"/>
<path d="M451.90,194.07V200.56M450.20,197.32H453.60" stroke="#7a7a7a" stroke-width="0.9" fill="none"/>
<rect x="455.70" y="184.34" width="5.20" height="1.26" fill="#8b4513"/>
<rect x="455.70" y="176.95" width="5.20" height="7.39" fill="#6b6b6b"/>
<rect x="455.70" y="166.85" width="5.20" height="10.10" fill="#b03c4f"/>
<rect x="455.70" y="158.56" width="5.20" height="8.29" fill="#2a77a8"/>
<rect x="455.70" y="185.60" width="5.20" height="11.90" fill="#a4c13a"/>
<rect x="455.70" y="158.56" width="5.20" height="38.94" fill="url(#hd)"/>
<line x1="460.90" y1="158.56" x2="460.90" y2="197.50" stroke="#fff" stroke-opacity="0.35" stroke-width="0.5"/>
<path d="M458.30,149.54V167.57M456.60,158.56H460.00" stroke="#7a7a7a" stroke-width="0.9" fill="none"/>
<path d="M458.30,194.22V200.78M456.60,197.50H460.00" stroke="#7a7a7a" stroke-width="0.9" fill="none"/>
<rect x="460.90" y="184.34" width="5.20" height="1.26" fill="#8b4513"/>
<rect x="460.90" y="176.95" width="5.20" height="7.39" fill="#6b6b6b"/>
<rect x="460.90" y="166.49" width="5.20" height="10.46" fill="#b03c4f"/>
<rect x="460.90" y="158.19" width="5.20" height="8.29" fill="#2a77a8"/>
<rect x="460.90" y="185.60" width="5.20" height="11.00" fill="#a4c13a"/>
<rect x="460.90" y="196.60" width="5.20" height="0.72" fill="#4b0082"/>
<rect x="460.90" y="158.19" width="5.20" height="39.13" fill="url(#hs)"/>
<line x1="466.10" y1="158.19" x2="466.10" y2="197.32" stroke="#fff" stroke-opacity="0.35" stroke-width="0.5"/>
<path d="M463.50,149.18V167.21M461.80,158.19H465.20" stroke="#7a7a7a" stroke-width="0.9" fill="none"/>
<path d="M463.50,194.07V200.56M461.80,197.32H465.20" stroke="#7a7a7a" stroke-width="0.9" fill="none"/>
<rect x="466.10" y="184.34" width="5.20" height="1.26" fill="#8b4513"/>
<rect x="466.10" y="176.58" width="5.20" height="7.75" fill="#6b6b6b"/>
<rect x="466.10" y="165.59" width="5.20" height="11.00" fill="#b03c4f"/>
<rect x="466.10" y="156.21" width="5.20" height="9.38" fill="#2a77a8"/>
<rect x="466.10" y="185.60" width="5.20" height="9.38" fill="#a4c13a"/>
<rect x="466.10" y="194.98" width="5.20" height="0.54" fill="#4b0082"/>
<rect x="466.10" y="195.52" width="5.20" height="3.25" fill="#2e8b57"/>
<line x1="471.30" y1="156.21" x2="471.30" y2="198.76" stroke="#fff" stroke-opacity="0.35" stroke-width="0.5"/>
<path d="M468.70,147.20V165.23M467.00,156.21H470.40" stroke="#7a7a7a" stroke-width="0.9" fill="none"/>
<path d="M468.70,195.23V202.30M467.00,198.76H470.40" stroke="#7a7a7a" stroke-width="0.9" fill="none"/>
<rect x="472.50" y="185.60" width="5.20" height="1.26" fill="#8b4513"/>
<rect x="472.50" y="179.83" width="5.20" height="5.77" fill="#6b6b6b"/>
<rect x="472.50" y="168.83" width="5.20" height="11.00" fill="#b03c4f"/>
<rect x="472.50" y="161.08" width="5.20" height="7.75" fill="#2a77a8"/>
<rect x="472.50" y="186.86" width="5.20" height="13.16" fill="#a4c13a"/>
<rect x="472.50" y="161.08" width="5.20" height="38.94" fill="url(#hd)"/>
<line x1="477.70" y1="161.08" x2="477.70" y2="200.02" stroke="#fff" stroke-opacity="0.35" stroke-width="0.5"/>
<path d="M475.10,156.57V165.59M473.40,161.08H476.80" stroke="#7a7a7a" stroke-width="0.9" fill="none"/>
<path d="M475.10,196.24V203.81M473.40,200.02H476.80" stroke="#7a7a7a" stroke-width="0.9" fill="none"/>
<rect x="477.70" y="185.60" width="5.20" height="1.26" fill="#8b4513"/>
<rect x="477.70" y="179.83" width="5.20" height="5.77" fill="#6b6b6b"/>
<rect x="477.70" y="168.65" width="5.20" height="11.18" fill="#b03c4f"/>
<rect x="477.70" y="161.08" width="5.20" height="7.57" fill="#2a77a8"/>
<rect x="477.70" y="186.86" width="5.20" height="12.80" fill="#a4c13a"/>
<rect x="477.70" y="199.66" width="5.20" height="0.72" fill="#4b0082"/>
<rect x="477.70" y="161.08" width="5.20" height="39.31" fill="url(#hs)"/>
<line x1="482.90" y1="161.08" x2="482.90" y2="200.38" stroke="#fff" stroke-opacity="0.35" stroke-width="0.5"/>
<path d="M480.30,156.57V165.59M478.60,161.08H482.00" stroke="#7a7a7a" stroke-width="0.9" fill="none"/>
<path d="M480.30,196.53V204.24M478.60,200.38H482.00" stroke="#7a7a7a" stroke-width="0.9" fill="none"/>
<rect x="482.90" y="185.60" width="5.20" height="1.26" fill="#8b4513"/>
<rect x="482.90" y="179.47" width="5.20" height="6.13" fill="#6b6b6b"/>
<rect x="482.90" y="167.75" width="5.20" height="11.72" fill="#b03c4f"/>
<rect x="482.90" y="159.10" width="5.20" height="8.65" fill="#2a77a8"/>
<rect x="482.90" y="186.86" width="5.20" height="11.72" fill="#a4c13a"/>
<rect x="482.90" y="198.58" width="5.20" height="0.72" fill="#4b0082"/>
<rect x="482.90" y="199.30" width="5.20" height="3.25" fill="#2e8b57"/>
<line x1="488.10" y1="159.10" x2="488.10" y2="202.55" stroke="#fff" stroke-opacity="0.35" stroke-width="0.5"/>
<path d="M485.50,154.59V163.60M483.80,159.10H487.20" stroke="#7a7a7a" stroke-width="0.9" fill="none"/>
<path d="M485.50,198.26V206.84M483.80,202.55H487.20" stroke="#7a7a7a" stroke-width="0.9" fill="none"/>
<rect x="489.30" y="185.60" width="5.20" height="1.62" fill="#8b4513"/>
<rect x="489.30" y="180.55" width="5.20" height="5.05" fill="#6b6b6b"/>
<rect x="489.30" y="169.01" width="5.20" height="11.54" fill="#b03c4f"/>
<rect x="489.30" y="161.80" width="5.20" height="7.21" fill="#2a77a8"/>
<rect x="489.30" y="187.22" width="5.20" height="14.60" fill="#a4c13a"/>
<rect x="489.30" y="161.80" width="5.20" height="40.03" fill="url(#hd)"/>
<line x1="494.50" y1="161.80" x2="494.50" y2="201.83" stroke="#fff" stroke-opacity="0.35" stroke-width="0.5"/>
<path d="M491.90,157.29V166.31M490.20,161.80H493.60" stroke="#7a7a7a" stroke-width="0.9" fill="none"/>
<path d="M491.90,197.68V205.97M490.20,201.83H493.60" stroke="#7a7a7a" stroke-width="0.9" fill="none"/>
<rect x="494.50" y="185.60" width="5.20" height="1.62" fill="#8b4513"/>
<rect x="494.50" y="180.55" width="5.20" height="5.05" fill="#6b6b6b"/>
<rect x="494.50" y="168.65" width="5.20" height="11.90" fill="#b03c4f"/>
<rect x="494.50" y="161.08" width="5.20" height="7.57" fill="#2a77a8"/>
<rect x="494.50" y="187.22" width="5.20" height="14.06" fill="#a4c13a"/>
<rect x="494.50" y="201.29" width="5.20" height="1.08" fill="#4b0082"/>
<rect x="494.50" y="161.08" width="5.20" height="41.29" fill="url(#hs)"/>
<line x1="499.70" y1="161.08" x2="499.70" y2="202.37" stroke="#fff" stroke-opacity="0.35" stroke-width="0.5"/>
<path d="M497.10,156.57V165.59M495.40,161.08H498.80" stroke="#7a7a7a" stroke-width="0.9" fill="none"/>
<path d="M497.10,198.11V206.62M495.40,202.37H498.80" stroke="#7a7a7a" stroke-width="0.9" fill="none"/>
<rect x="499.70" y="185.60" width="5.20" height="1.62" fill="#8b4513"/>
<rect x="499.70" y="180.19" width="5.20" height="5.41" fill="#6b6b6b"/>
<rect x="499.70" y="167.21" width="5.20" height="12.98" fill="#b03c4f"/>
<rect x="499.70" y="159.10" width="5.20" height="8.11" fill="#2a77a8"/>
<rect x="499.70" y="187.22" width="5.20" height="13.34" fill="#a4c13a"/>
<rect x="499.70" y="200.56" width="5.20" height="0.72" fill="#4b0082"/>
<rect x="499.70" y="201.29" width="5.20" height="2.52" fill="#2e8b57"/>
<line x1="504.90" y1="159.10" x2="504.90" y2="203.81" stroke="#fff" stroke-opacity="0.35" stroke-width="0.5"/>
<path d="M502.30,154.59V163.60M500.60,159.10H504.00" stroke="#7a7a7a" stroke-width="0.9" fill="none"/>
<path d="M502.30,199.27V208.35M500.60,203.81H504.00" stroke="#7a7a7a" stroke-width="0.9" fill="none"/>
<rect x="506.10" y="185.60" width="5.20" height="3.07" fill="#8b4513"/>
<rect x="506.10" y="180.19" width="5.20" height="5.41" fill="#6b6b6b"/>
<rect x="506.10" y="167.21" width="5.20" height="12.98" fill="#b03c4f"/>
<rect x="506.10" y="160.00" width="5.20" height="7.21" fill="#2a77a8"/>
<rect x="506.10" y="188.67" width="5.20" height="14.42" fill="#a4c13a"/>
<rect x="506.10" y="160.00" width="5.20" height="43.09" fill="url(#hd)"/>
<line x1="511.30" y1="160.00" x2="511.30" y2="203.09" stroke="#fff" stroke-opacity="0.35" stroke-width="0.5"/>
<path d="M508.70,155.49V164.50M507.00,160.00H510.40" stroke="#7a7a7a" stroke-width="0.9" fill="none"/>
<path d="M508.70,198.69V207.49M507.00,203.09H510.40" stroke="#7a7a7a" stroke-width="0.9" fill="none"/>
<rect x="511.30" y="185.60" width="5.20" height="3.07" fill="#8b4513"/>
<rect x="511.30" y="180.19" width="5.20" height="5.41" fill="#6b6b6b"/>
<rect x="511.30" y="166.85" width="5.20" height="13.34" fill="#b03c4f"/>
<rect x="511.30" y="159.82" width="5.20" height="7.03" fill="#2a77a8"/>
<rect x="511.30" y="188.67" width="5.20" height="14.06" fill="#a4c13a"/>
<rect x="511.30" y="202.73" width="5.20" height="0.90" fill="#4b0082"/>
<rect x="511.30" y="159.82" width="5.20" height="43.81" fill="url(#hs)"/>
<line x1="516.50" y1="159.82" x2="516.50" y2="203.63" stroke="#fff" stroke-opacity="0.35" stroke-width="0.5"/>
<path d="M513.90,155.31V164.32M512.20,159.82H515.60" stroke="#7a7a7a" stroke-width="0.9" fill="none"/>
<path d="M513.90,199.12V208.14M512.20,203.63H515.60" stroke="#7a7a7a" stroke-width="0.9" fill="none"/>
<rect x="516.50" y="185.60" width="5.20" height="3.07" fill="#8b4513"/>
<rect x="516.50" y="179.83" width="5.20" height="5.77" fill="#6b6b6b"/>
<rect x="516.50" y="166.13" width="5.20" height="13.70" fill="#b03c4f"/>
<rect x="516.50" y="157.83" width="5.20" height="8.29" fill="#2a77a8"/>
<rect x="516.50" y="188.67" width="5.20" height="13.34" fill="#a4c13a"/>
<rect x="516.50" y="202.01" width="5.20" height="0.72" fill="#4b0082"/>
<rect x="516.50" y="202.73" width="5.20" height="2.34" fill="#2e8b57"/>
<line x1="521.70" y1="157.83" x2="521.70" y2="205.07" stroke="#fff" stroke-opacity="0.35" stroke-width="0.5"/>
<path d="M519.10,153.33V162.34M517.40,157.83H520.80" stroke="#7a7a7a" stroke-width="0.9" fill="none"/>
<path d="M519.10,200.28V209.87M517.40,205.07H520.80" stroke="#7a7a7a" stroke-width="0.9" fill="none"/>
<path d="M381.20,109.51C386.79,114.08 392.37,118.59 397.96,123.22C403.55,127.84 409.13,132.86 414.72,137.28C420.31,141.70 425.89,145.57 431.48,149.72C437.07,153.87 442.65,158.98 448.24,162.16C453.83,165.35 459.41,166.91 465.00,168.83C470.59,170.76 476.17,172.50 481.76,173.70C487.35,174.90 492.93,175.56 498.52,176.04C504.11,176.52 509.69,176.40 515.28,176.58" fill="none" stroke="#ff0000" stroke-dasharray="1.1 1.5" stroke-width="1.15" stroke-linejoin="round"/>
<path d="M381.20,109.51C386.79,113.96 392.37,118.32 397.96,122.86C403.55,127.39 409.13,132.35 414.72,136.74C420.31,141.13 425.89,145.00 431.48,149.18C437.07,153.36 442.65,158.59 448.24,161.80C453.83,165.02 459.41,166.55 465.00,168.47C470.59,170.39 476.17,172.11 481.76,173.34C487.35,174.57 492.93,175.35 498.52,175.86C504.11,176.37 509.69,176.22 515.28,176.40" fill="none" stroke="#ff0000" stroke-dasharray="3 1.6" stroke-width="1.15" stroke-linejoin="round"/>
<path d="M381.20,109.51C386.79,113.84 392.37,118.08 397.96,122.50C403.55,126.91 409.13,131.69 414.72,136.02C420.31,140.34 425.89,144.25 431.48,148.46C437.07,152.67 442.65,158.01 448.24,161.26C453.83,164.50 459.41,165.98 465.00,167.93C470.59,169.88 476.17,171.72 481.76,172.98C487.35,174.24 492.93,174.99 498.52,175.50C504.11,176.01 509.69,175.86 515.28,176.04" fill="none" stroke="#ff0000" stroke-width="1.25" stroke-linejoin="round"/>
<rect x="370.90" y="95.50" width="151.20" height="162.50" fill="none" stroke="#5a5a5a" stroke-width="0.8"/>
<line x1="369.10" y1="257.72" x2="370.90" y2="257.72" stroke="#5a5a5a" stroke-width="0.8"/>
<line x1="369.10" y1="239.69" x2="370.90" y2="239.69" stroke="#5a5a5a" stroke-width="0.8"/>
<line x1="369.10" y1="221.66" x2="370.90" y2="221.66" stroke="#5a5a5a" stroke-width="0.8"/>
<line x1="369.10" y1="203.63" x2="370.90" y2="203.63" stroke="#5a5a5a" stroke-width="0.8"/>
<line x1="369.10" y1="185.60" x2="370.90" y2="185.60" stroke="#5a5a5a" stroke-width="0.8"/>
<line x1="369.10" y1="167.57" x2="370.90" y2="167.57" stroke="#5a5a5a" stroke-width="0.8"/>
<line x1="369.10" y1="149.54" x2="370.90" y2="149.54" stroke="#5a5a5a" stroke-width="0.8"/>
<line x1="369.10" y1="131.51" x2="370.90" y2="131.51" stroke="#5a5a5a" stroke-width="0.8"/>
<line x1="369.10" y1="113.48" x2="370.90" y2="113.48" stroke="#5a5a5a" stroke-width="0.8"/>
<line x1="369.10" y1="95.45" x2="370.90" y2="95.45" stroke="#5a5a5a" stroke-width="0.8"/>
<line x1="381.20" y1="258.00" x2="381.20" y2="259.80" stroke="#5a5a5a" stroke-width="0.8"/>
<text x="381.20" y="267.80" font-size="8.5" text-anchor="middle" textLength="20.20" lengthAdjust="spacingAndGlyphs" stroke="#000" stroke-width="0.08">2020</text>
<line x1="414.72" y1="258.00" x2="414.72" y2="259.80" stroke="#5a5a5a" stroke-width="0.8"/>
<text x="414.72" y="267.80" font-size="8.5" text-anchor="middle" textLength="20.20" lengthAdjust="spacingAndGlyphs" stroke="#000" stroke-width="0.08">2040</text>
<line x1="448.24" y1="258.00" x2="448.24" y2="259.80" stroke="#5a5a5a" stroke-width="0.8"/>
<text x="448.24" y="267.80" font-size="8.5" text-anchor="middle" textLength="20.20" lengthAdjust="spacingAndGlyphs" stroke="#000" stroke-width="0.08">2060</text>
<line x1="481.76" y1="258.00" x2="481.76" y2="259.80" stroke="#5a5a5a" stroke-width="0.8"/>
<text x="481.76" y="267.80" font-size="8.5" text-anchor="middle" textLength="20.20" lengthAdjust="spacingAndGlyphs" stroke="#000" stroke-width="0.08">2080</text>
<line x1="515.28" y1="258.00" x2="515.28" y2="259.80" stroke="#5a5a5a" stroke-width="0.8"/>
<text x="515.28" y="267.80" font-size="8.5" text-anchor="middle" textLength="20.20" lengthAdjust="spacingAndGlyphs" stroke="#000" stroke-width="0.08">2100</text>
<text x="520.80" y="103.00" font-size="9.0" text-anchor="end" font-weight="bold" stroke="#000" stroke-width="0.22">g</text>
<rect x="531.20" y="176.22" width="5.30" height="9.38" fill="#8b4513"/>
<rect x="531.20" y="148.10" width="5.30" height="28.13" fill="#6b6b6b"/>
<rect x="531.20" y="123.04" width="5.30" height="25.06" fill="#b03c4f"/>
<rect x="531.20" y="109.51" width="5.30" height="13.52" fill="#2a77a8"/>
<rect x="531.20" y="109.51" width="5.30" height="76.09" fill="url(#hd)"/>
<line x1="536.50" y1="109.51" x2="536.50" y2="185.60" stroke="#fff" stroke-opacity="0.35" stroke-width="0.5"/>
<path d="M531.65,109.31H536.05" stroke="#9a9a9a" stroke-width="0.8" fill="none"/>
<rect x="536.50" y="176.22" width="5.30" height="9.38" fill="#8b4513"/>
<rect x="536.50" y="148.10" width="5.30" height="28.13" fill="#6b6b6b"/>
<rect x="536.50" y="123.04" width="5.30" height="25.06" fill="#b03c4f"/>
<rect x="536.50" y="109.51" width="5.30" height="13.52" fill="#2a77a8"/>
<rect x="536.50" y="109.51" width="5.30" height="76.09" fill="url(#hs)"/>
<line x1="541.80" y1="109.51" x2="541.80" y2="185.60" stroke="#fff" stroke-opacity="0.35" stroke-width="0.5"/>
<path d="M536.95,109.31H541.35" stroke="#9a9a9a" stroke-width="0.8" fill="none"/>
<rect x="541.80" y="176.22" width="5.30" height="9.38" fill="#8b4513"/>
<rect x="541.80" y="148.10" width="5.30" height="28.13" fill="#6b6b6b"/>
<rect x="541.80" y="123.04" width="5.30" height="25.06" fill="#b03c4f"/>
<rect x="541.80" y="109.51" width="5.30" height="13.52" fill="#2a77a8"/>
<line x1="547.10" y1="109.51" x2="547.10" y2="185.60" stroke="#fff" stroke-opacity="0.35" stroke-width="0.5"/>
<path d="M542.25,109.31H546.65" stroke="#9a9a9a" stroke-width="0.8" fill="none"/>
<rect x="548.80" y="176.95" width="5.20" height="8.65" fill="#8b4513"/>
<rect x="548.80" y="150.62" width="5.20" height="26.32" fill="#6b6b6b"/>
<rect x="548.80" y="130.61" width="5.20" height="20.01" fill="#b03c4f"/>
<rect x="548.80" y="112.58" width="5.20" height="18.03" fill="#2a77a8"/>
<rect x="548.80" y="112.58" width="5.20" height="73.02" fill="url(#hd)"/>
<line x1="554.00" y1="112.58" x2="554.00" y2="185.60" stroke="#fff" stroke-opacity="0.35" stroke-width="0.5"/>
<path d="M551.40,102.66V122.50M549.70,112.58H553.10" stroke="#7a7a7a" stroke-width="0.9" fill="none"/>
<rect x="554.00" y="176.95" width="5.20" height="8.65" fill="#8b4513"/>
<rect x="554.00" y="149.72" width="5.20" height="27.23" fill="#6b6b6b"/>
<rect x="554.00" y="129.71" width="5.20" height="20.01" fill="#b03c4f"/>
<rect x="554.00" y="111.86" width="5.20" height="17.85" fill="#2a77a8"/>
<rect x="554.00" y="111.86" width="5.20" height="73.74" fill="url(#hs)"/>
<line x1="559.20" y1="111.86" x2="559.20" y2="185.60" stroke="#fff" stroke-opacity="0.35" stroke-width="0.5"/>
<path d="M556.60,101.94V121.77M554.90,111.86H558.30" stroke="#7a7a7a" stroke-width="0.9" fill="none"/>
<rect x="559.20" y="176.95" width="5.20" height="8.65" fill="#8b4513"/>
<rect x="559.20" y="147.56" width="5.20" height="29.39" fill="#6b6b6b"/>
<rect x="559.20" y="127.54" width="5.20" height="20.01" fill="#b03c4f"/>
<rect x="559.20" y="108.97" width="5.20" height="18.57" fill="#2a77a8"/>
<rect x="559.20" y="185.60" width="5.20" height="0.54" fill="#2e8b57"/>
<line x1="564.40" y1="108.97" x2="564.40" y2="186.14" stroke="#fff" stroke-opacity="0.35" stroke-width="0.5"/>
<path d="M561.80,99.06V118.89M560.10,108.97H563.50" stroke="#7a7a7a" stroke-width="0.9" fill="none"/>
<rect x="565.60" y="178.75" width="5.20" height="6.85" fill="#8b4513"/>
<rect x="565.60" y="158.19" width="5.20" height="20.55" fill="#6b6b6b"/>
<rect x="565.60" y="139.80" width="5.20" height="18.39" fill="#b03c4f"/>
<rect x="565.60" y="121.05" width="5.20" height="18.75" fill="#2a77a8"/>
<rect x="565.60" y="185.60" width="5.20" height="0.54" fill="#a4c13a"/>
<rect x="565.60" y="121.05" width="5.20" height="65.09" fill="url(#hd)"/>
<line x1="570.80" y1="121.05" x2="570.80" y2="186.14" stroke="#fff" stroke-opacity="0.35" stroke-width="0.5"/>
<path d="M568.20,111.14V130.97M566.50,121.05H569.90" stroke="#7a7a7a" stroke-width="0.9" fill="none"/>
<rect x="570.80" y="178.75" width="5.20" height="6.85" fill="#8b4513"/>
<rect x="570.80" y="156.93" width="5.20" height="21.82" fill="#6b6b6b"/>
<rect x="570.80" y="138.72" width="5.20" height="18.21" fill="#b03c4f"/>
<rect x="570.80" y="119.79" width="5.20" height="18.93" fill="#2a77a8"/>
<rect x="570.80" y="185.60" width="5.20" height="0.54" fill="#a4c13a"/>
<rect x="570.80" y="186.14" width="5.20" height="0.36" fill="#4b0082"/>
<rect x="570.80" y="119.79" width="5.20" height="66.71" fill="url(#hs)"/>
<line x1="576.00" y1="119.79" x2="576.00" y2="186.50" stroke="#fff" stroke-opacity="0.35" stroke-width="0.5"/>
<path d="M573.40,109.87V129.71M571.70,119.79H575.10" stroke="#7a7a7a" stroke-width="0.9" fill="none"/>
<rect x="576.00" y="178.75" width="5.20" height="6.85" fill="#8b4513"/>
<rect x="576.00" y="154.95" width="5.20" height="23.80" fill="#6b6b6b"/>
<rect x="576.00" y="136.20" width="5.20" height="18.75" fill="#b03c4f"/>
<rect x="576.00" y="116.91" width="5.20" height="19.29" fill="#2a77a8"/>
<rect x="576.00" y="185.60" width="5.20" height="0.36" fill="#a4c13a"/>
<rect x="576.00" y="185.96" width="5.20" height="1.44" fill="#2e8b57"/>
<line x1="581.20" y1="116.91" x2="581.20" y2="187.40" stroke="#fff" stroke-opacity="0.35" stroke-width="0.5"/>
<path d="M578.60,106.99V126.82M576.90,116.91H580.30" stroke="#7a7a7a" stroke-width="0.9" fill="none"/>
<path d="M578.60,186.14V188.67M576.90,187.40H580.30" stroke="#7a7a7a" stroke-width="0.9" fill="none"/>
<rect x="582.40" y="181.09" width="5.20" height="4.51" fill="#8b4513"/>
<rect x="582.40" y="165.59" width="5.20" height="15.51" fill="#6b6b6b"/>
<rect x="582.40" y="151.88" width="5.20" height="13.70" fill="#b03c4f"/>
<rect x="582.40" y="132.41" width="5.20" height="19.47" fill="#2a77a8"/>
<rect x="582.40" y="185.60" width="5.20" height="1.80" fill="#a4c13a"/>
<rect x="582.40" y="132.41" width="5.20" height="54.99" fill="url(#hd)"/>
<line x1="587.60" y1="132.41" x2="587.60" y2="187.40" stroke="#fff" stroke-opacity="0.35" stroke-width="0.5"/>
<path d="M585.00,122.50V142.33M583.30,132.41H586.70" stroke="#7a7a7a" stroke-width="0.9" fill="none"/>
<path d="M585.00,186.14V188.67M583.30,187.40H586.70" stroke="#7a7a7a" stroke-width="0.9" fill="none"/>
<rect x="587.60" y="181.09" width="5.20" height="4.51" fill="#8b4513"/>
<rect x="587.60" y="165.59" width="5.20" height="15.51" fill="#6b6b6b"/>
<rect x="587.60" y="150.98" width="5.20" height="14.60" fill="#b03c4f"/>
<rect x="587.60" y="132.41" width="5.20" height="18.57" fill="#2a77a8"/>
<rect x="587.60" y="185.60" width="5.20" height="1.62" fill="#a4c13a"/>
<rect x="587.60" y="187.22" width="5.20" height="0.72" fill="#4b0082"/>
<rect x="587.60" y="132.41" width="5.20" height="55.53" fill="url(#hs)"/>
<line x1="592.80" y1="132.41" x2="592.80" y2="187.94" stroke="#fff" stroke-opacity="0.35" stroke-width="0.5"/>
<path d="M590.20,122.50V142.33M588.50,132.41H591.90" stroke="#7a7a7a" stroke-width="0.9" fill="none"/>
<path d="M590.20,186.57V189.31M588.50,187.94H591.90" stroke="#7a7a7a" stroke-width="0.9" fill="none"/>
<rect x="592.80" y="181.09" width="5.20" height="4.51" fill="#8b4513"/>
<rect x="592.80" y="163.78" width="5.20" height="17.31" fill="#6b6b6b"/>
<rect x="592.80" y="148.10" width="5.20" height="15.69" fill="#b03c4f"/>
<rect x="592.80" y="128.81" width="5.20" height="19.29" fill="#2a77a8"/>
<rect x="592.80" y="185.60" width="5.20" height="1.26" fill="#a4c13a"/>
<rect x="592.80" y="186.86" width="5.20" height="0.54" fill="#4b0082"/>
<rect x="592.80" y="187.40" width="5.20" height="1.98" fill="#2e8b57"/>
<line x1="598.00" y1="128.81" x2="598.00" y2="189.39" stroke="#fff" stroke-opacity="0.35" stroke-width="0.5"/>
<path d="M595.40,118.89V138.72M593.70,128.81H597.10" stroke="#7a7a7a" stroke-width="0.9" fill="none"/>
<path d="M595.40,187.73V191.05M593.70,189.39H597.10" stroke="#7a7a7a" stroke-width="0.9" fill="none"/>
<rect x="599.20" y="182.53" width="5.20" height="3.07" fill="#8b4513"/>
<rect x="599.20" y="173.70" width="5.20" height="8.83" fill="#6b6b6b"/>
<rect x="599.20" y="161.98" width="5.20" height="11.72" fill="#b03c4f"/>
<rect x="599.20" y="146.84" width="5.20" height="15.15" fill="#2a77a8"/>
<rect x="599.20" y="185.60" width="5.20" height="7.21" fill="#a4c13a"/>
<rect x="599.20" y="146.84" width="5.20" height="45.98" fill="url(#hd)"/>
<line x1="604.40" y1="146.84" x2="604.40" y2="192.81" stroke="#fff" stroke-opacity="0.35" stroke-width="0.5"/>
<path d="M601.80,136.92V156.75M600.10,146.84H603.50" stroke="#7a7a7a" stroke-width="0.9" fill="none"/>
<path d="M601.80,190.47V195.16M600.10,192.81H603.50" stroke="#7a7a7a" stroke-width="0.9" fill="none"/>
<rect x="604.40" y="182.53" width="5.20" height="3.07" fill="#8b4513"/>
<rect x="604.40" y="173.34" width="5.20" height="9.20" fill="#6b6b6b"/>
<rect x="604.40" y="161.44" width="5.20" height="11.90" fill="#b03c4f"/>
<rect x="604.40" y="145.39" width="5.20" height="16.05" fill="#2a77a8"/>
<rect x="604.40" y="185.60" width="5.20" height="6.49" fill="#a4c13a"/>
<rect x="604.40" y="192.09" width="5.20" height="1.62" fill="#4b0082"/>
<rect x="604.40" y="145.39" width="5.20" height="48.32" fill="url(#hs)"/>
<line x1="609.60" y1="145.39" x2="609.60" y2="193.71" stroke="#fff" stroke-opacity="0.35" stroke-width="0.5"/>
<path d="M607.00,135.48V155.31M605.30,145.39H608.70" stroke="#7a7a7a" stroke-width="0.9" fill="none"/>
<path d="M607.00,191.19V196.24M605.30,193.71H608.70" stroke="#7a7a7a" stroke-width="0.9" fill="none"/>
<rect x="609.60" y="182.53" width="5.20" height="3.07" fill="#8b4513"/>
<rect x="609.60" y="181.99" width="5.20" height="0.54" fill="#ff7f0e"/>
<rect x="609.60" y="172.62" width="5.20" height="9.38" fill="#6b6b6b"/>
<rect x="609.60" y="159.46" width="5.20" height="13.16" fill="#b03c4f"/>
<rect x="609.60" y="141.97" width="5.20" height="17.49" fill="#2a77a8"/>
<rect x="609.60" y="185.60" width="5.20" height="5.05" fill="#a4c13a"/>
<rect x="609.60" y="190.65" width="5.20" height="1.08" fill="#4b0082"/>
<rect x="609.60" y="191.73" width="5.20" height="2.70" fill="#2e8b57"/>
<line x1="614.80" y1="141.97" x2="614.80" y2="194.43" stroke="#fff" stroke-opacity="0.35" stroke-width="0.5"/>
<path d="M612.20,132.05V151.88M610.50,141.97H613.90" stroke="#7a7a7a" stroke-width="0.9" fill="none"/>
<path d="M612.20,191.77V197.10M610.50,194.43H613.90" stroke="#7a7a7a" stroke-width="0.9" fill="none"/>
<rect x="616.00" y="183.80" width="5.20" height="1.80" fill="#8b4513"/>
<rect x="616.00" y="178.21" width="5.20" height="5.59" fill="#6b6b6b"/>
<rect x="616.00" y="169.55" width="5.20" height="8.65" fill="#b03c4f"/>
<rect x="616.00" y="160.00" width="5.20" height="9.56" fill="#2a77a8"/>
<rect x="616.00" y="185.60" width="5.20" height="13.16" fill="#a4c13a"/>
<rect x="616.00" y="160.00" width="5.20" height="38.76" fill="url(#hd)"/>
<line x1="621.20" y1="160.00" x2="621.20" y2="198.76" stroke="#fff" stroke-opacity="0.35" stroke-width="0.5"/>
<path d="M618.60,150.08V169.91M616.90,160.00H620.30" stroke="#7a7a7a" stroke-width="0.9" fill="none"/>
<path d="M618.60,195.23V202.30M616.90,198.76H620.30" stroke="#7a7a7a" stroke-width="0.9" fill="none"/>
<rect x="621.20" y="183.80" width="5.20" height="1.80" fill="#8b4513"/>
<rect x="621.20" y="178.21" width="5.20" height="5.59" fill="#6b6b6b"/>
<rect x="621.20" y="168.29" width="5.20" height="9.92" fill="#b03c4f"/>
<rect x="621.20" y="158.19" width="5.20" height="10.10" fill="#2a77a8"/>
<rect x="621.20" y="185.60" width="5.20" height="12.08" fill="#a4c13a"/>
<rect x="621.20" y="197.68" width="5.20" height="2.34" fill="#4b0082"/>
<rect x="621.20" y="158.19" width="5.20" height="41.83" fill="url(#hs)"/>
<line x1="626.40" y1="158.19" x2="626.40" y2="200.02" stroke="#fff" stroke-opacity="0.35" stroke-width="0.5"/>
<path d="M623.80,148.28V168.11M622.10,158.19H625.50" stroke="#7a7a7a" stroke-width="0.9" fill="none"/>
<path d="M623.80,196.24V203.81M622.10,200.02H625.50" stroke="#7a7a7a" stroke-width="0.9" fill="none"/>
<rect x="626.40" y="183.98" width="5.20" height="1.62" fill="#8b4513"/>
<rect x="626.40" y="182.90" width="5.20" height="1.08" fill="#ff7f0e"/>
<rect x="626.40" y="177.85" width="5.20" height="5.05" fill="#6b6b6b"/>
<rect x="626.40" y="166.31" width="5.20" height="11.54" fill="#b03c4f"/>
<rect x="626.40" y="154.77" width="5.20" height="11.54" fill="#2a77a8"/>
<rect x="626.40" y="185.60" width="5.20" height="10.28" fill="#a4c13a"/>
<rect x="626.40" y="195.88" width="5.20" height="2.52" fill="#4b0082"/>
<rect x="626.40" y="198.40" width="5.20" height="5.41" fill="#2e8b57"/>
<line x1="631.60" y1="154.77" x2="631.60" y2="203.81" stroke="#fff" stroke-opacity="0.35" stroke-width="0.5"/>
<path d="M629.00,144.85V164.69M627.30,154.77H630.70" stroke="#7a7a7a" stroke-width="0.9" fill="none"/>
<path d="M629.00,199.27V208.35M627.30,203.81H630.70" stroke="#7a7a7a" stroke-width="0.9" fill="none"/>
<rect x="632.80" y="185.24" width="5.20" height="0.36" fill="#8b4513"/>
<rect x="632.80" y="181.09" width="5.20" height="4.15" fill="#6b6b6b"/>
<rect x="632.80" y="174.96" width="5.20" height="6.13" fill="#b03c4f"/>
<rect x="632.80" y="168.65" width="5.20" height="6.31" fill="#2a77a8"/>
<rect x="632.80" y="185.60" width="5.20" height="17.67" fill="#a4c13a"/>
<rect x="632.80" y="168.65" width="5.20" height="34.62" fill="url(#hd)"/>
<line x1="638.00" y1="168.65" x2="638.00" y2="203.27" stroke="#fff" stroke-opacity="0.35" stroke-width="0.5"/>
<path d="M635.40,163.78V173.52M633.70,168.65H637.10" stroke="#7a7a7a" stroke-width="0.9" fill="none"/>
<path d="M635.40,198.83V207.70M633.70,203.27H637.10" stroke="#7a7a7a" stroke-width="0.9" fill="none"/>
<rect x="638.00" y="185.24" width="5.20" height="0.36" fill="#8b4513"/>
<rect x="638.00" y="181.09" width="5.20" height="4.15" fill="#6b6b6b"/>
<rect x="638.00" y="174.24" width="5.20" height="6.85" fill="#b03c4f"/>
<rect x="638.00" y="167.57" width="5.20" height="6.67" fill="#2a77a8"/>
<rect x="638.00" y="185.60" width="5.20" height="17.31" fill="#a4c13a"/>
<rect x="638.00" y="202.91" width="5.20" height="3.97" fill="#4b0082"/>
<rect x="638.00" y="167.57" width="5.20" height="39.31" fill="url(#hs)"/>
<line x1="643.20" y1="167.57" x2="643.20" y2="206.88" stroke="#fff" stroke-opacity="0.35" stroke-width="0.5"/>
<path d="M640.60,162.70V172.44M638.90,167.57H642.30" stroke="#7a7a7a" stroke-width="0.9" fill="none"/>
<path d="M640.60,201.72V212.03M638.90,206.88H642.30" stroke="#7a7a7a" stroke-width="0.9" fill="none"/>
<rect x="643.20" y="185.24" width="5.20" height="0.36" fill="#8b4513"/>
<rect x="643.20" y="184.70" width="5.20" height="0.54" fill="#ff7f0e"/>
<rect x="643.20" y="180.91" width="5.20" height="3.79" fill="#6b6b6b"/>
<rect x="643.20" y="172.26" width="5.20" height="8.65" fill="#b03c4f"/>
<rect x="643.20" y="164.69" width="5.20" height="7.57" fill="#2a77a8"/>
<rect x="643.20" y="185.60" width="5.20" height="16.23" fill="#a4c13a"/>
<rect x="643.20" y="201.83" width="5.20" height="4.33" fill="#4b0082"/>
<rect x="643.20" y="206.15" width="5.20" height="6.85" fill="#2e8b57"/>
<line x1="648.40" y1="164.69" x2="648.40" y2="213.01" stroke="#fff" stroke-opacity="0.35" stroke-width="0.5"/>
<path d="M645.80,159.82V169.55M644.10,164.69H647.50" stroke="#7a7a7a" stroke-width="0.9" fill="none"/>
<path d="M645.80,206.62V219.39M644.10,213.01H647.50" stroke="#7a7a7a" stroke-width="0.9" fill="none"/>
<rect x="649.60" y="185.60" width="5.20" height="1.62" fill="#8b4513"/>
<rect x="649.60" y="182.53" width="5.20" height="3.07" fill="#6b6b6b"/>
<rect x="649.60" y="176.58" width="5.20" height="5.95" fill="#b03c4f"/>
<rect x="649.60" y="172.44" width="5.20" height="4.15" fill="#2a77a8"/>
<rect x="649.60" y="187.22" width="5.20" height="19.65" fill="#a4c13a"/>
<rect x="649.60" y="172.44" width="5.20" height="34.44" fill="url(#hd)"/>
<line x1="654.80" y1="172.44" x2="654.80" y2="206.88" stroke="#fff" stroke-opacity="0.35" stroke-width="0.5"/>
<path d="M652.20,167.57V177.31M650.50,172.44H653.90" stroke="#7a7a7a" stroke-width="0.9" fill="none"/>
<path d="M652.20,201.72V212.03M650.50,206.88H653.90" stroke="#7a7a7a" stroke-width="0.9" fill="none"/>
<rect x="654.80" y="185.60" width="5.20" height="1.62" fill="#8b4513"/>
<rect x="654.80" y="182.53" width="5.20" height="3.07" fill="#6b6b6b"/>
<rect x="654.80" y="175.68" width="5.20" height="6.85" fill="#b03c4f"/>
<rect x="654.80" y="171.36" width="5.20" height="4.33" fill="#2a77a8"/>
<rect x="654.80" y="187.22" width="5.20" height="19.65" fill="#a4c13a"/>
<rect x="654.80" y="206.88" width="5.20" height="5.77" fill="#4b0082"/>
<rect x="654.80" y="171.36" width="5.20" height="41.29" fill="url(#hs)"/>
<line x1="660.00" y1="171.36" x2="660.00" y2="212.64" stroke="#fff" stroke-opacity="0.35" stroke-width="0.5"/>
<path d="M657.40,166.49V176.22M655.70,171.36H659.10" stroke="#7a7a7a" stroke-width="0.9" fill="none"/>
<path d="M657.40,206.33V218.96M655.70,212.64H659.10" stroke="#7a7a7a" stroke-width="0.9" fill="none"/>
<rect x="660.00" y="185.60" width="5.20" height="1.62" fill="#8b4513"/>
<rect x="660.00" y="182.17" width="5.20" height="3.43" fill="#6b6b6b"/>
<rect x="660.00" y="173.88" width="5.20" height="8.29" fill="#b03c4f"/>
<rect x="660.00" y="169.01" width="5.20" height="4.87" fill="#2a77a8"/>
<rect x="660.00" y="187.22" width="5.20" height="19.11" fill="#a4c13a"/>
<rect x="660.00" y="206.33" width="5.20" height="5.59" fill="#4b0082"/>
<rect x="660.00" y="211.92" width="5.20" height="6.31" fill="#2e8b57"/>
<line x1="665.20" y1="169.01" x2="665.20" y2="218.23" stroke="#fff" stroke-opacity="0.35" stroke-width="0.5"/>
<path d="M662.60,164.14V173.88M660.90,169.01H664.30" stroke="#7a7a7a" stroke-width="0.9" fill="none"/>
<path d="M662.60,210.81V225.66M660.90,218.23H664.30" stroke="#7a7a7a" stroke-width="0.9" fill="none"/>
<rect x="666.40" y="185.60" width="5.20" height="2.88" fill="#8b4513"/>
<rect x="666.40" y="181.99" width="5.20" height="3.61" fill="#6b6b6b"/>
<rect x="666.40" y="174.96" width="5.20" height="7.03" fill="#b03c4f"/>
<rect x="666.40" y="169.01" width="5.20" height="5.95" fill="#2a77a8"/>
<rect x="666.40" y="188.48" width="5.20" height="19.11" fill="#a4c13a"/>
<rect x="666.40" y="169.01" width="5.20" height="38.58" fill="url(#hd)"/>
<line x1="671.60" y1="169.01" x2="671.60" y2="207.60" stroke="#fff" stroke-opacity="0.35" stroke-width="0.5"/>
<path d="M669.00,164.14V173.88M667.30,169.01H670.70" stroke="#7a7a7a" stroke-width="0.9" fill="none"/>
<path d="M669.00,202.30V212.90M667.30,207.60H670.70" stroke="#7a7a7a" stroke-width="0.9" fill="none"/>
<rect x="671.60" y="185.60" width="5.20" height="2.88" fill="#8b4513"/>
<rect x="671.60" y="181.99" width="5.20" height="3.61" fill="#6b6b6b"/>
<rect x="671.60" y="174.24" width="5.20" height="7.75" fill="#b03c4f"/>
<rect x="671.60" y="168.29" width="5.20" height="5.95" fill="#2a77a8"/>
<rect x="671.60" y="188.48" width="5.20" height="18.39" fill="#a4c13a"/>
<rect x="671.60" y="206.88" width="5.20" height="2.88" fill="#4b0082"/>
<rect x="671.60" y="168.29" width="5.20" height="41.47" fill="url(#hs)"/>
<line x1="676.80" y1="168.29" x2="676.80" y2="209.76" stroke="#fff" stroke-opacity="0.35" stroke-width="0.5"/>
<path d="M674.20,163.42V173.16M672.50,168.29H675.90" stroke="#7a7a7a" stroke-width="0.9" fill="none"/>
<path d="M674.20,204.03V215.49M672.50,209.76H675.90" stroke="#7a7a7a" stroke-width="0.9" fill="none"/>
<rect x="676.80" y="185.60" width="5.20" height="2.88" fill="#8b4513"/>
<rect x="676.80" y="181.63" width="5.20" height="3.97" fill="#6b6b6b"/>
<rect x="676.80" y="172.26" width="5.20" height="9.38" fill="#b03c4f"/>
<rect x="676.80" y="165.77" width="5.20" height="6.49" fill="#2a77a8"/>
<rect x="676.80" y="188.48" width="5.20" height="17.67" fill="#a4c13a"/>
<rect x="676.80" y="206.15" width="5.20" height="2.52" fill="#4b0082"/>
<rect x="676.80" y="208.68" width="5.20" height="5.05" fill="#2e8b57"/>
<line x1="682.00" y1="165.77" x2="682.00" y2="213.73" stroke="#fff" stroke-opacity="0.35" stroke-width="0.5"/>
<path d="M679.40,160.90V170.64M677.70,165.77H681.10" stroke="#7a7a7a" stroke-width="0.9" fill="none"/>
<path d="M679.40,207.20V220.25M677.70,213.73H681.10" stroke="#7a7a7a" stroke-width="0.9" fill="none"/>
<path d="M541.50,109.51C547.09,110.54 552.67,110.57 558.26,112.58C563.85,114.59 569.43,117.99 575.02,121.59C580.61,125.20 586.19,128.81 591.78,134.21C597.37,139.62 602.95,147.56 608.54,154.05C614.13,160.54 619.71,167.78 625.30,173.16C630.89,178.54 636.47,182.90 642.06,186.32C647.65,189.75 653.23,191.25 658.82,193.71C664.41,192.81 669.99,191.91 675.58,191.01" fill="none" stroke="#ff0000" stroke-dasharray="1.1 1.5" stroke-width="1.15" stroke-linejoin="round"/>
<path d="M541.50,109.51C547.09,110.29 552.67,109.99 558.26,111.86C563.85,113.72 569.43,116.88 575.02,120.69C580.61,124.51 586.19,129.29 591.78,134.76C597.37,140.22 602.95,147.20 608.54,153.51C614.13,159.82 619.71,166.73 625.30,172.62C630.89,178.51 636.47,184.55 642.06,188.85C647.65,193.14 653.23,195.22 658.82,198.40C664.41,196.42 669.99,194.43 675.58,192.45" fill="none" stroke="#ff0000" stroke-dasharray="3 1.6" stroke-width="1.15" stroke-linejoin="round"/>
<path d="M541.50,109.51C547.09,109.51 552.67,109.51 558.26,109.51C563.85,109.51 569.43,114.86 575.02,118.71C580.61,122.56 586.19,127.24 591.78,132.59C597.37,137.94 602.95,144.07 608.54,150.80C614.13,157.53 619.71,166.10 625.30,172.98C630.89,179.86 636.47,187.31 642.06,192.09C647.65,196.87 653.23,198.46 658.82,201.65C664.41,199.06 669.99,196.48 675.58,193.89" fill="none" stroke="#ff0000" stroke-width="1.25" stroke-linejoin="round"/>
<rect x="531.20" y="95.50" width="151.20" height="162.50" fill="none" stroke="#5a5a5a" stroke-width="0.8"/>
<line x1="529.40" y1="257.72" x2="531.20" y2="257.72" stroke="#5a5a5a" stroke-width="0.8"/>
<line x1="529.40" y1="239.69" x2="531.20" y2="239.69" stroke="#5a5a5a" stroke-width="0.8"/>
<line x1="529.40" y1="221.66" x2="531.20" y2="221.66" stroke="#5a5a5a" stroke-width="0.8"/>
<line x1="529.40" y1="203.63" x2="531.20" y2="203.63" stroke="#5a5a5a" stroke-width="0.8"/>
<line x1="529.40" y1="185.60" x2="531.20" y2="185.60" stroke="#5a5a5a" stroke-width="0.8"/>
<line x1="529.40" y1="167.57" x2="531.20" y2="167.57" stroke="#5a5a5a" stroke-width="0.8"/>
<line x1="529.40" y1="149.54" x2="531.20" y2="149.54" stroke="#5a5a5a" stroke-width="0.8"/>
<line x1="529.40" y1="131.51" x2="531.20" y2="131.51" stroke="#5a5a5a" stroke-width="0.8"/>
<line x1="529.40" y1="113.48" x2="531.20" y2="113.48" stroke="#5a5a5a" stroke-width="0.8"/>
<line x1="529.40" y1="95.45" x2="531.20" y2="95.45" stroke="#5a5a5a" stroke-width="0.8"/>
<line x1="541.50" y1="258.00" x2="541.50" y2="259.80" stroke="#5a5a5a" stroke-width="0.8"/>
<text x="541.50" y="267.80" font-size="8.5" text-anchor="middle" textLength="20.20" lengthAdjust="spacingAndGlyphs" stroke="#000" stroke-width="0.08">2020</text>
<line x1="575.02" y1="258.00" x2="575.02" y2="259.80" stroke="#5a5a5a" stroke-width="0.8"/>
<text x="575.02" y="267.80" font-size="8.5" text-anchor="middle" textLength="20.20" lengthAdjust="spacingAndGlyphs" stroke="#000" stroke-width="0.08">2040</text>
<line x1="608.54" y1="258.00" x2="608.54" y2="259.80" stroke="#5a5a5a" stroke-width="0.8"/>
<text x="608.54" y="267.80" font-size="8.5" text-anchor="middle" textLength="20.20" lengthAdjust="spacingAndGlyphs" stroke="#000" stroke-width="0.08">2060</text>
<line x1="642.06" y1="258.00" x2="642.06" y2="259.80" stroke="#5a5a5a" stroke-width="0.8"/>
<text x="642.06" y="267.80" font-size="8.5" text-anchor="middle" textLength="20.20" lengthAdjust="spacingAndGlyphs" stroke="#000" stroke-width="0.08">2080</text>
<line x1="675.58" y1="258.00" x2="675.58" y2="259.80" stroke="#5a5a5a" stroke-width="0.8"/>
<text x="675.58" y="267.80" font-size="8.5" text-anchor="middle" textLength="20.20" lengthAdjust="spacingAndGlyphs" stroke="#000" stroke-width="0.08">2100</text>
<text x="681.10" y="103.00" font-size="9.0" text-anchor="end" font-weight="bold" stroke="#000" stroke-width="0.22">h</text>
<g transform="translate(26.9,206.2) rotate(-90)">
<text x="-0.60" y="0.00" font-size="9.4" textLength="22.60" lengthAdjust="spacingAndGlyphs" stroke="#000" stroke-width="0.14">GtCO</text>
<text x="22.20" y="1.90" font-size="6.6" textLength="3.70" lengthAdjust="spacingAndGlyphs" stroke="#000" stroke-width="0.1">2</text>
<text x="25.90" y="0.00" font-size="9.4" textLength="3.00" lengthAdjust="spacingAndGlyphs" stroke="#000" stroke-width="0.14">·</text>
<text x="30.00" y="0.00" font-size="9.4" textLength="20.30" lengthAdjust="spacingAndGlyphs" stroke="#000" stroke-width="0.14">year</text>
<text x="50.50" y="-3.60" font-size="6.6" textLength="8.60" lengthAdjust="spacingAndGlyphs" stroke="#000" stroke-width="0.1">−1</text>
</g>
<g stroke="#000" stroke-width="1.1" fill="none">
<path d="M53.6,224 V189.5"/><path d="M69,214.6 L59.8,188.5"/><path d="M77,205.6 L65.2,188.5"/>
</g><g fill="#000">
<path d="M53.6,186.2 L52.2,191.5 L55.0,191.5Z"/>
<path d="M59.3,186.2 L58.5,191.6 L61.1,190.8Z"/>
<path d="M64.3,186.2 L64.1,191.4 L66.4,190.1Z"/>
</g>
<text x="77.60" y="212.60" font-size="7.6" textLength="47.60" lengthAdjust="spacingAndGlyphs" stroke="#000" stroke-width="0.22">EW on CL+F</text>
<text x="69.10" y="221.60" font-size="7.6" textLength="37.00" lengthAdjust="spacingAndGlyphs" stroke="#000" stroke-width="0.22">EW on CL</text>
<text x="53.60" y="230.60" font-size="7.6" textLength="25.60" lengthAdjust="spacingAndGlyphs" stroke="#000" stroke-width="0.22">No EW</text>
<rect x="94.7" y="278.7" width="432.0" height="40.3" rx="1.8" fill="#fff" stroke="#dedede" stroke-width="1.0"/>
<line x1="97.6" y1="285.8" x2="115.9" y2="285.8" stroke="#ff0000" stroke-width="1.2" stroke-dasharray="1.1 1.5"/>
<line x1="97.6" y1="298.6" x2="115.9" y2="298.6" stroke="#ff0000" stroke-width="1.2" stroke-dasharray="3.2 1.7"/>
<line x1="97.6" y1="311.3" x2="115.9" y2="311.3" stroke="#ff0000" stroke-width="1.4"/>
<text x="122.80" y="288.85" font-size="8.2" textLength="28.60" lengthAdjust="spacingAndGlyphs" stroke="#000" stroke-width="0.12">No EW</text>
<text x="122.80" y="301.65" font-size="8.2" textLength="41.50" lengthAdjust="spacingAndGlyphs" stroke="#000" stroke-width="0.12">EW on CL</text>
<text x="122.80" y="314.35" font-size="8.2" textLength="53.70" lengthAdjust="spacingAndGlyphs" stroke="#000" stroke-width="0.12">EW on CL+F</text>
<rect x="193.60" y="282.95" width="17.60" height="5.70" fill="#6b6b6b"/>
<text x="218.50" y="288.85" font-size="8.2" textLength="19.20" lengthAdjust="spacingAndGlyphs" stroke="#000" stroke-width="0.12">Coal</text>
<rect x="193.60" y="295.75" width="17.60" height="5.70" fill="#b03c4f"/>
<text x="218.50" y="301.65" font-size="8.2" textLength="11.40" lengthAdjust="spacingAndGlyphs" stroke="#000" stroke-width="0.12">Oil</text>
<rect x="193.60" y="308.45" width="17.60" height="5.70" fill="#2a77a8"/>
<text x="218.50" y="314.35" font-size="8.2" textLength="50.40" lengthAdjust="spacingAndGlyphs" stroke="#000" stroke-width="0.12">Natural gas</text>
<rect x="286.10" y="282.95" width="17.50" height="5.70" fill="#8b4513"/>
<text x="310.80" y="288.85" font-size="8.2" textLength="39.90" lengthAdjust="spacingAndGlyphs" stroke="#000" stroke-width="0.12">Land-use</text>
<rect x="286.10" y="295.75" width="17.50" height="5.70" fill="#a4c13a"/>
<text x="310.80" y="301.65" font-size="8.2" textLength="29.10" lengthAdjust="spacingAndGlyphs" stroke="#000" stroke-width="0.12">BECCS</text>
<rect x="286.10" y="308.45" width="17.50" height="5.70" fill="#4b0082"/>
<text x="310.80" y="314.35" font-size="8.2" textLength="96.50" lengthAdjust="spacingAndGlyphs" stroke="#000" stroke-width="0.12">EW: geochemical CDR</text>
<rect x="424.50" y="282.95" width="17.50" height="5.70" fill="#2e8b57"/>
<text x="449.20" y="288.85" font-size="8.2" textLength="64.80" lengthAdjust="spacingAndGlyphs" stroke="#000" stroke-width="0.12">EW: biotic CDR</text>
<rect x="424.50" y="295.75" width="17.50" height="5.70" fill="#ff7f0e"/>
<text x="449.20" y="301.65" font-size="8.2" textLength="74.40" lengthAdjust="spacingAndGlyphs" stroke="#000" stroke-width="0.12">EW: supply chain</text>
</svg>
</body></html>
